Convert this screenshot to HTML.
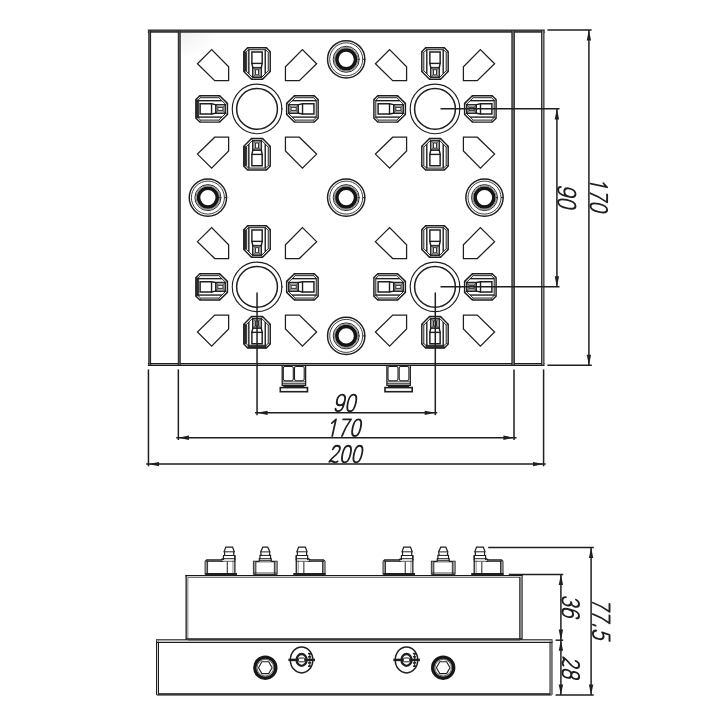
<!DOCTYPE html>
<html><head><meta charset="utf-8"><title>drawing</title>
<style>html,body{margin:0;padding:0;background:#fff;font-family:"Liberation Sans",sans-serif}svg{display:block}</style>
</head><body>
<svg width="724" height="724" viewBox="0 0 724 724">
<rect width="724" height="724" fill="#fff"/>
<defs><radialGradient id="sh" cx="0" cy="0" r="1"><stop offset="0" stop-color="#f0f0f0"/><stop offset="1" stop-color="#ffffff"/></radialGradient></defs>
<rect x="180.5" y="32.5" width="38" height="26" fill="url(#sh)"/>
<line x1="148.30" y1="31.00" x2="544.30" y2="31.00" stroke="#4d4d4d" stroke-width="2.2" />
<line x1="148.30" y1="29.90" x2="544.30" y2="29.90" stroke="#2e2e2e" stroke-width="1.05" stroke-linecap="square"/>
<line x1="148.30" y1="32.10" x2="544.30" y2="32.10" stroke="#2e2e2e" stroke-width="1.05" stroke-linecap="square"/>
<line x1="148.40" y1="364.50" x2="544.00" y2="364.50" stroke="#8c8c8c" stroke-width="2.0" />
<line x1="148.40" y1="363.50" x2="544.00" y2="363.50" stroke="#1c1c1c" stroke-width="1.0" stroke-linecap="square"/>
<line x1="148.40" y1="365.50" x2="544.00" y2="365.50" stroke="#1c1c1c" stroke-width="1.0" stroke-linecap="square"/>
<line x1="149.70" y1="31.00" x2="149.70" y2="364.50" stroke="#6a6a6a" stroke-width="1.8" />
<line x1="150.60" y1="31.00" x2="150.60" y2="364.50" stroke="#1c1c1c" stroke-width="1.0" stroke-linecap="square"/>
<line x1="148.80" y1="31.00" x2="148.80" y2="364.50" stroke="#1c1c1c" stroke-width="1.0" stroke-linecap="square"/>
<line x1="542.80" y1="31.00" x2="542.80" y2="364.50" stroke="#a5a5a5" stroke-width="2.3" />
<line x1="543.95" y1="31.00" x2="543.95" y2="364.50" stroke="#1c1c1c" stroke-width="1.0" stroke-linecap="square"/>
<line x1="541.65" y1="31.00" x2="541.65" y2="364.50" stroke="#1c1c1c" stroke-width="1.0" stroke-linecap="square"/>
<line x1="179.25" y1="31.00" x2="179.25" y2="364.50" stroke="#6a6a6a" stroke-width="1.9" />
<line x1="180.20" y1="31.00" x2="180.20" y2="364.50" stroke="#1c1c1c" stroke-width="1.0" stroke-linecap="square"/>
<line x1="178.30" y1="31.00" x2="178.30" y2="364.50" stroke="#1c1c1c" stroke-width="1.0" stroke-linecap="square"/>
<line x1="513.10" y1="31.00" x2="513.10" y2="364.50" stroke="#7a7a7a" stroke-width="2.4" />
<line x1="514.30" y1="31.00" x2="514.30" y2="364.50" stroke="#1c1c1c" stroke-width="1.05" stroke-linecap="square"/>
<line x1="511.90" y1="31.00" x2="511.90" y2="364.50" stroke="#1c1c1c" stroke-width="1.05" stroke-linecap="square"/>
<circle cx="257.04" cy="108.90" r="24.80" fill="none" stroke="#1f1f1f" stroke-width="1.15"/>
<circle cx="257.04" cy="108.90" r="20.40" fill="none" stroke="#1f1f1f" stroke-width="1.5"/>
<line x1="281.24" y1="108.90" x2="282.64" y2="108.90" stroke="#1f1f1f" stroke-width="1.3" />
<path d="M243.84 51.70 L246.74 52.40 L246.74 70.70 L243.84 71.50 Z" fill="#474747" stroke="#1f1f1f" stroke-width="0.6" stroke-linejoin="miter"/>
<path d="M243.84 51.70 L247.64 47.80 L266.44 47.80 L270.24 51.70 L270.24 71.50 L262.54 79.30 L251.54 79.30 L243.84 71.50 Z" fill="none" stroke="#1f1f1f" stroke-width="1.45" stroke-linejoin="miter"/>
<path d="M245.84 52.40 L248.54 49.70 L265.54 49.70 L268.24 52.40 L268.24 70.70 L261.64 77.40 L252.44 77.40 L245.84 70.70 Z" fill="none" stroke="#1f1f1f" stroke-width="1.0" stroke-linejoin="miter"/>
<line x1="243.84" y1="51.70" x2="245.84" y2="52.40" stroke="#1f1f1f" stroke-width="0.8" />
<line x1="247.64" y1="47.80" x2="248.54" y2="49.70" stroke="#1f1f1f" stroke-width="0.8" />
<line x1="266.44" y1="47.80" x2="265.54" y2="49.70" stroke="#1f1f1f" stroke-width="0.8" />
<line x1="270.24" y1="51.70" x2="268.24" y2="52.40" stroke="#1f1f1f" stroke-width="0.8" />
<line x1="270.24" y1="71.50" x2="268.24" y2="70.70" stroke="#1f1f1f" stroke-width="0.8" />
<line x1="262.54" y1="79.30" x2="261.64" y2="77.40" stroke="#1f1f1f" stroke-width="0.8" />
<line x1="251.54" y1="79.30" x2="252.44" y2="77.40" stroke="#1f1f1f" stroke-width="0.8" />
<line x1="243.84" y1="71.50" x2="245.84" y2="70.70" stroke="#1f1f1f" stroke-width="0.8" />
<line x1="248.84" y1="49.70" x2="248.84" y2="73.80" stroke="#1f1f1f" stroke-width="1.4" />
<line x1="265.24" y1="49.70" x2="265.24" y2="73.80" stroke="#1f1f1f" stroke-width="1.4" />
<path d="M251.89 52.00 L262.19 52.00 L262.19 63.40 L261.34 67.40 L261.34 77.10 L252.74 77.10 L252.74 67.40 L251.89 63.40 Z" fill="none" stroke="#1f1f1f" stroke-width="1.45" stroke-linejoin="miter"/>
<line x1="251.34" y1="63.40" x2="262.74" y2="63.40" stroke="#1f1f1f" stroke-width="1.4" />
<line x1="252.74" y1="67.40" x2="261.34" y2="67.40" stroke="#1f1f1f" stroke-width="1.0" />
<path d="M252.74 67.90 L261.34 67.90 L261.34 77.10 L252.74 77.10 Z" fill="#a8a8a8" stroke="#1f1f1f" stroke-width="0.9" stroke-linejoin="miter"/>
<path d="M255.54 69.70 L258.54 69.70 L258.54 74.80 L255.54 74.80 Z" fill="#fff" stroke="#1f1f1f" stroke-width="0.9" stroke-linejoin="miter"/>
<line x1="252.74" y1="67.90" x2="255.54" y2="69.70" stroke="#1f1f1f" stroke-width="0.6" />
<line x1="252.74" y1="77.10" x2="255.54" y2="74.80" stroke="#1f1f1f" stroke-width="0.6" />
<line x1="261.34" y1="67.90" x2="258.54" y2="69.70" stroke="#1f1f1f" stroke-width="0.6" />
<line x1="261.34" y1="77.10" x2="258.54" y2="74.80" stroke="#1f1f1f" stroke-width="0.6" />
<path d="M314.24 95.70 L318.14 99.50 L318.14 118.30 L314.24 122.10 L294.44 122.10 L286.64 114.40 L286.64 103.40 L294.44 95.70 Z" fill="none" stroke="#1f1f1f" stroke-width="1.45" stroke-linejoin="miter"/>
<path d="M313.54 97.70 L316.24 100.40 L316.24 117.40 L313.54 120.10 L295.24 120.10 L288.54 113.50 L288.54 104.30 L295.24 97.70 Z" fill="none" stroke="#1f1f1f" stroke-width="1.0" stroke-linejoin="miter"/>
<line x1="314.24" y1="95.70" x2="313.54" y2="97.70" stroke="#1f1f1f" stroke-width="0.8" />
<line x1="318.14" y1="99.50" x2="316.24" y2="100.40" stroke="#1f1f1f" stroke-width="0.8" />
<line x1="318.14" y1="118.30" x2="316.24" y2="117.40" stroke="#1f1f1f" stroke-width="0.8" />
<line x1="314.24" y1="122.10" x2="313.54" y2="120.10" stroke="#1f1f1f" stroke-width="0.8" />
<line x1="294.44" y1="122.10" x2="295.24" y2="120.10" stroke="#1f1f1f" stroke-width="0.8" />
<line x1="286.64" y1="114.40" x2="288.54" y2="113.50" stroke="#1f1f1f" stroke-width="0.8" />
<line x1="286.64" y1="103.40" x2="288.54" y2="104.30" stroke="#1f1f1f" stroke-width="0.8" />
<line x1="294.44" y1="95.70" x2="295.24" y2="97.70" stroke="#1f1f1f" stroke-width="0.8" />
<line x1="316.24" y1="100.70" x2="292.14" y2="100.70" stroke="#1f1f1f" stroke-width="1.4" />
<line x1="316.24" y1="117.10" x2="292.14" y2="117.10" stroke="#1f1f1f" stroke-width="1.4" />
<path d="M313.94 103.75 L313.94 114.05 L302.54 114.05 L298.54 113.20 L288.84 113.20 L288.84 104.60 L298.54 104.60 L302.54 103.75 Z" fill="none" stroke="#1f1f1f" stroke-width="1.45" stroke-linejoin="miter"/>
<line x1="302.54" y1="103.20" x2="302.54" y2="114.60" stroke="#1f1f1f" stroke-width="1.4" />
<line x1="298.54" y1="104.60" x2="298.54" y2="113.20" stroke="#1f1f1f" stroke-width="1.0" />
<path d="M298.04 104.60 L298.04 113.20 L288.84 113.20 L288.84 104.60 Z" fill="#a8a8a8" stroke="#1f1f1f" stroke-width="0.9" stroke-linejoin="miter"/>
<path d="M296.24 107.40 L296.24 110.40 L291.14 110.40 L291.14 107.40 Z" fill="#fff" stroke="#1f1f1f" stroke-width="0.9" stroke-linejoin="miter"/>
<line x1="298.04" y1="104.60" x2="296.24" y2="107.40" stroke="#1f1f1f" stroke-width="0.6" />
<line x1="288.84" y1="104.60" x2="291.14" y2="107.40" stroke="#1f1f1f" stroke-width="0.6" />
<line x1="298.04" y1="113.20" x2="296.24" y2="110.40" stroke="#1f1f1f" stroke-width="0.6" />
<line x1="288.84" y1="113.20" x2="291.14" y2="110.40" stroke="#1f1f1f" stroke-width="0.6" />
<path d="M243.84 166.10 L246.74 165.40 L246.74 147.10 L243.84 146.30 Z" fill="#474747" stroke="#1f1f1f" stroke-width="0.6" stroke-linejoin="miter"/>
<path d="M270.24 166.10 L266.44 170.00 L247.64 170.00 L243.84 166.10 L243.84 146.30 L251.54 138.50 L262.54 138.50 L270.24 146.30 Z" fill="none" stroke="#1f1f1f" stroke-width="1.45" stroke-linejoin="miter"/>
<path d="M268.24 165.40 L265.54 168.10 L248.54 168.10 L245.84 165.40 L245.84 147.10 L252.44 140.40 L261.64 140.40 L268.24 147.10 Z" fill="none" stroke="#1f1f1f" stroke-width="1.0" stroke-linejoin="miter"/>
<line x1="270.24" y1="166.10" x2="268.24" y2="165.40" stroke="#1f1f1f" stroke-width="0.8" />
<line x1="266.44" y1="170.00" x2="265.54" y2="168.10" stroke="#1f1f1f" stroke-width="0.8" />
<line x1="247.64" y1="170.00" x2="248.54" y2="168.10" stroke="#1f1f1f" stroke-width="0.8" />
<line x1="243.84" y1="166.10" x2="245.84" y2="165.40" stroke="#1f1f1f" stroke-width="0.8" />
<line x1="243.84" y1="146.30" x2="245.84" y2="147.10" stroke="#1f1f1f" stroke-width="0.8" />
<line x1="251.54" y1="138.50" x2="252.44" y2="140.40" stroke="#1f1f1f" stroke-width="0.8" />
<line x1="262.54" y1="138.50" x2="261.64" y2="140.40" stroke="#1f1f1f" stroke-width="0.8" />
<line x1="270.24" y1="146.30" x2="268.24" y2="147.10" stroke="#1f1f1f" stroke-width="0.8" />
<line x1="265.24" y1="168.10" x2="265.24" y2="144.00" stroke="#1f1f1f" stroke-width="1.4" />
<line x1="248.84" y1="168.10" x2="248.84" y2="144.00" stroke="#1f1f1f" stroke-width="1.4" />
<path d="M262.19 165.80 L251.89 165.80 L251.89 154.40 L252.74 150.40 L252.74 140.70 L261.34 140.70 L261.34 150.40 L262.19 154.40 Z" fill="none" stroke="#1f1f1f" stroke-width="1.45" stroke-linejoin="miter"/>
<line x1="262.74" y1="154.40" x2="251.34" y2="154.40" stroke="#1f1f1f" stroke-width="1.4" />
<line x1="261.34" y1="150.40" x2="252.74" y2="150.40" stroke="#1f1f1f" stroke-width="1.0" />
<path d="M261.34 149.90 L252.74 149.90 L252.74 140.70 L261.34 140.70 Z" fill="#a8a8a8" stroke="#1f1f1f" stroke-width="0.9" stroke-linejoin="miter"/>
<path d="M258.54 148.10 L255.54 148.10 L255.54 143.00 L258.54 143.00 Z" fill="#fff" stroke="#1f1f1f" stroke-width="0.9" stroke-linejoin="miter"/>
<line x1="261.34" y1="149.90" x2="258.54" y2="148.10" stroke="#1f1f1f" stroke-width="0.6" />
<line x1="261.34" y1="140.70" x2="258.54" y2="143.00" stroke="#1f1f1f" stroke-width="0.6" />
<line x1="252.74" y1="149.90" x2="255.54" y2="148.10" stroke="#1f1f1f" stroke-width="0.6" />
<line x1="252.74" y1="140.70" x2="255.54" y2="143.00" stroke="#1f1f1f" stroke-width="0.6" />
<path d="M195.94 118.30 L198.74 117.40 L198.74 100.40 L195.94 99.50 Z" fill="#474747" stroke="#1f1f1f" stroke-width="0.6" stroke-linejoin="miter"/>
<path d="M199.84 122.10 L195.94 118.30 L195.94 99.50 L199.84 95.70 L219.64 95.70 L227.44 103.40 L227.44 114.40 L219.64 122.10 Z" fill="none" stroke="#1f1f1f" stroke-width="1.45" stroke-linejoin="miter"/>
<path d="M200.54 120.10 L197.84 117.40 L197.84 100.40 L200.54 97.70 L218.84 97.70 L225.54 104.30 L225.54 113.50 L218.84 120.10 Z" fill="none" stroke="#1f1f1f" stroke-width="1.0" stroke-linejoin="miter"/>
<line x1="199.84" y1="122.10" x2="200.54" y2="120.10" stroke="#1f1f1f" stroke-width="0.8" />
<line x1="195.94" y1="118.30" x2="197.84" y2="117.40" stroke="#1f1f1f" stroke-width="0.8" />
<line x1="195.94" y1="99.50" x2="197.84" y2="100.40" stroke="#1f1f1f" stroke-width="0.8" />
<line x1="199.84" y1="95.70" x2="200.54" y2="97.70" stroke="#1f1f1f" stroke-width="0.8" />
<line x1="219.64" y1="95.70" x2="218.84" y2="97.70" stroke="#1f1f1f" stroke-width="0.8" />
<line x1="227.44" y1="103.40" x2="225.54" y2="104.30" stroke="#1f1f1f" stroke-width="0.8" />
<line x1="227.44" y1="114.40" x2="225.54" y2="113.50" stroke="#1f1f1f" stroke-width="0.8" />
<line x1="219.64" y1="122.10" x2="218.84" y2="120.10" stroke="#1f1f1f" stroke-width="0.8" />
<line x1="197.84" y1="117.10" x2="221.94" y2="117.10" stroke="#1f1f1f" stroke-width="1.4" />
<line x1="197.84" y1="100.70" x2="221.94" y2="100.70" stroke="#1f1f1f" stroke-width="1.4" />
<path d="M200.14 114.05 L200.14 103.75 L211.54 103.75 L215.54 104.60 L225.24 104.60 L225.24 113.20 L215.54 113.20 L211.54 114.05 Z" fill="none" stroke="#1f1f1f" stroke-width="1.45" stroke-linejoin="miter"/>
<line x1="211.54" y1="114.60" x2="211.54" y2="103.20" stroke="#1f1f1f" stroke-width="1.4" />
<line x1="215.54" y1="113.20" x2="215.54" y2="104.60" stroke="#1f1f1f" stroke-width="1.0" />
<path d="M216.04 113.20 L216.04 104.60 L225.24 104.60 L225.24 113.20 Z" fill="#a8a8a8" stroke="#1f1f1f" stroke-width="0.9" stroke-linejoin="miter"/>
<path d="M217.84 110.40 L217.84 107.40 L222.94 107.40 L222.94 110.40 Z" fill="#fff" stroke="#1f1f1f" stroke-width="0.9" stroke-linejoin="miter"/>
<line x1="216.04" y1="113.20" x2="217.84" y2="110.40" stroke="#1f1f1f" stroke-width="0.6" />
<line x1="225.24" y1="113.20" x2="222.94" y2="110.40" stroke="#1f1f1f" stroke-width="0.6" />
<line x1="216.04" y1="104.60" x2="217.84" y2="107.40" stroke="#1f1f1f" stroke-width="0.6" />
<line x1="225.24" y1="104.60" x2="222.94" y2="107.40" stroke="#1f1f1f" stroke-width="0.6" />
<path d="M228.64 80.60 L228.64 66.80 L211.64 49.60 L197.44 63.70 L214.74 80.60 Z" fill="none" stroke="#1f1f1f" stroke-width="1.25" stroke-linejoin="miter"/>
<path d="M228.64 137.20 L228.64 151.00 L211.64 168.20 L197.44 154.10 L214.74 137.20 Z" fill="none" stroke="#1f1f1f" stroke-width="1.25" stroke-linejoin="miter"/>
<path d="M285.44 80.60 L285.44 66.80 L302.44 49.60 L316.64 63.70 L299.34 80.60 Z" fill="none" stroke="#1f1f1f" stroke-width="1.25" stroke-linejoin="miter"/>
<path d="M285.44 137.20 L285.44 151.00 L302.44 168.20 L316.64 154.10 L299.34 137.20 Z" fill="none" stroke="#1f1f1f" stroke-width="1.25" stroke-linejoin="miter"/>
<circle cx="435.00" cy="108.90" r="24.80" fill="none" stroke="#1f1f1f" stroke-width="1.15"/>
<circle cx="435.00" cy="108.90" r="20.40" fill="none" stroke="#1f1f1f" stroke-width="1.5"/>
<line x1="459.20" y1="108.90" x2="460.60" y2="108.90" stroke="#1f1f1f" stroke-width="1.3" />
<path d="M421.80 51.70 L425.60 47.80 L444.40 47.80 L448.20 51.70 L448.20 71.50 L440.50 79.30 L429.50 79.30 L421.80 71.50 Z" fill="none" stroke="#1f1f1f" stroke-width="1.45" stroke-linejoin="miter"/>
<path d="M423.80 52.40 L426.50 49.70 L443.50 49.70 L446.20 52.40 L446.20 70.70 L439.60 77.40 L430.40 77.40 L423.80 70.70 Z" fill="none" stroke="#1f1f1f" stroke-width="1.0" stroke-linejoin="miter"/>
<line x1="421.80" y1="51.70" x2="423.80" y2="52.40" stroke="#1f1f1f" stroke-width="0.8" />
<line x1="425.60" y1="47.80" x2="426.50" y2="49.70" stroke="#1f1f1f" stroke-width="0.8" />
<line x1="444.40" y1="47.80" x2="443.50" y2="49.70" stroke="#1f1f1f" stroke-width="0.8" />
<line x1="448.20" y1="51.70" x2="446.20" y2="52.40" stroke="#1f1f1f" stroke-width="0.8" />
<line x1="448.20" y1="71.50" x2="446.20" y2="70.70" stroke="#1f1f1f" stroke-width="0.8" />
<line x1="440.50" y1="79.30" x2="439.60" y2="77.40" stroke="#1f1f1f" stroke-width="0.8" />
<line x1="429.50" y1="79.30" x2="430.40" y2="77.40" stroke="#1f1f1f" stroke-width="0.8" />
<line x1="421.80" y1="71.50" x2="423.80" y2="70.70" stroke="#1f1f1f" stroke-width="0.8" />
<line x1="426.80" y1="49.70" x2="426.80" y2="73.80" stroke="#1f1f1f" stroke-width="1.4" />
<line x1="443.20" y1="49.70" x2="443.20" y2="73.80" stroke="#1f1f1f" stroke-width="1.4" />
<path d="M429.85 52.00 L440.15 52.00 L440.15 63.40 L439.30 67.40 L439.30 77.10 L430.70 77.10 L430.70 67.40 L429.85 63.40 Z" fill="none" stroke="#1f1f1f" stroke-width="1.45" stroke-linejoin="miter"/>
<line x1="429.30" y1="63.40" x2="440.70" y2="63.40" stroke="#1f1f1f" stroke-width="1.4" />
<line x1="430.70" y1="67.40" x2="439.30" y2="67.40" stroke="#1f1f1f" stroke-width="1.0" />
<path d="M430.70 67.90 L439.30 67.90 L439.30 77.10 L430.70 77.10 Z" fill="#a8a8a8" stroke="#1f1f1f" stroke-width="0.9" stroke-linejoin="miter"/>
<path d="M433.50 69.70 L436.50 69.70 L436.50 74.80 L433.50 74.80 Z" fill="#fff" stroke="#1f1f1f" stroke-width="0.9" stroke-linejoin="miter"/>
<line x1="430.70" y1="67.90" x2="433.50" y2="69.70" stroke="#1f1f1f" stroke-width="0.6" />
<line x1="430.70" y1="77.10" x2="433.50" y2="74.80" stroke="#1f1f1f" stroke-width="0.6" />
<line x1="439.30" y1="67.90" x2="436.50" y2="69.70" stroke="#1f1f1f" stroke-width="0.6" />
<line x1="439.30" y1="77.10" x2="436.50" y2="74.80" stroke="#1f1f1f" stroke-width="0.6" />
<path d="M492.20 95.70 L496.10 99.50 L496.10 118.30 L492.20 122.10 L472.40 122.10 L464.60 114.40 L464.60 103.40 L472.40 95.70 Z" fill="none" stroke="#1f1f1f" stroke-width="1.45" stroke-linejoin="miter"/>
<path d="M491.50 97.70 L494.20 100.40 L494.20 117.40 L491.50 120.10 L473.20 120.10 L466.50 113.50 L466.50 104.30 L473.20 97.70 Z" fill="none" stroke="#1f1f1f" stroke-width="1.0" stroke-linejoin="miter"/>
<line x1="492.20" y1="95.70" x2="491.50" y2="97.70" stroke="#1f1f1f" stroke-width="0.8" />
<line x1="496.10" y1="99.50" x2="494.20" y2="100.40" stroke="#1f1f1f" stroke-width="0.8" />
<line x1="496.10" y1="118.30" x2="494.20" y2="117.40" stroke="#1f1f1f" stroke-width="0.8" />
<line x1="492.20" y1="122.10" x2="491.50" y2="120.10" stroke="#1f1f1f" stroke-width="0.8" />
<line x1="472.40" y1="122.10" x2="473.20" y2="120.10" stroke="#1f1f1f" stroke-width="0.8" />
<line x1="464.60" y1="114.40" x2="466.50" y2="113.50" stroke="#1f1f1f" stroke-width="0.8" />
<line x1="464.60" y1="103.40" x2="466.50" y2="104.30" stroke="#1f1f1f" stroke-width="0.8" />
<line x1="472.40" y1="95.70" x2="473.20" y2="97.70" stroke="#1f1f1f" stroke-width="0.8" />
<line x1="494.20" y1="100.70" x2="470.10" y2="100.70" stroke="#1f1f1f" stroke-width="1.4" />
<line x1="494.20" y1="117.10" x2="470.10" y2="117.10" stroke="#1f1f1f" stroke-width="1.4" />
<path d="M491.90 103.75 L491.90 114.05 L480.50 114.05 L476.50 113.20 L466.80 113.20 L466.80 104.60 L476.50 104.60 L480.50 103.75 Z" fill="none" stroke="#1f1f1f" stroke-width="1.45" stroke-linejoin="miter"/>
<line x1="480.50" y1="103.20" x2="480.50" y2="114.60" stroke="#1f1f1f" stroke-width="1.4" />
<line x1="476.50" y1="104.60" x2="476.50" y2="113.20" stroke="#1f1f1f" stroke-width="1.0" />
<path d="M476.00 104.60 L476.00 113.20 L466.80 113.20 L466.80 104.60 Z" fill="#a8a8a8" stroke="#1f1f1f" stroke-width="0.9" stroke-linejoin="miter"/>
<path d="M474.20 107.40 L474.20 110.40 L469.10 110.40 L469.10 107.40 Z" fill="#fff" stroke="#1f1f1f" stroke-width="0.9" stroke-linejoin="miter"/>
<line x1="476.00" y1="104.60" x2="474.20" y2="107.40" stroke="#1f1f1f" stroke-width="0.6" />
<line x1="466.80" y1="104.60" x2="469.10" y2="107.40" stroke="#1f1f1f" stroke-width="0.6" />
<line x1="476.00" y1="113.20" x2="474.20" y2="110.40" stroke="#1f1f1f" stroke-width="0.6" />
<line x1="466.80" y1="113.20" x2="469.10" y2="110.40" stroke="#1f1f1f" stroke-width="0.6" />
<path d="M448.20 166.10 L444.40 170.00 L425.60 170.00 L421.80 166.10 L421.80 146.30 L429.50 138.50 L440.50 138.50 L448.20 146.30 Z" fill="none" stroke="#1f1f1f" stroke-width="1.45" stroke-linejoin="miter"/>
<path d="M446.20 165.40 L443.50 168.10 L426.50 168.10 L423.80 165.40 L423.80 147.10 L430.40 140.40 L439.60 140.40 L446.20 147.10 Z" fill="none" stroke="#1f1f1f" stroke-width="1.0" stroke-linejoin="miter"/>
<line x1="448.20" y1="166.10" x2="446.20" y2="165.40" stroke="#1f1f1f" stroke-width="0.8" />
<line x1="444.40" y1="170.00" x2="443.50" y2="168.10" stroke="#1f1f1f" stroke-width="0.8" />
<line x1="425.60" y1="170.00" x2="426.50" y2="168.10" stroke="#1f1f1f" stroke-width="0.8" />
<line x1="421.80" y1="166.10" x2="423.80" y2="165.40" stroke="#1f1f1f" stroke-width="0.8" />
<line x1="421.80" y1="146.30" x2="423.80" y2="147.10" stroke="#1f1f1f" stroke-width="0.8" />
<line x1="429.50" y1="138.50" x2="430.40" y2="140.40" stroke="#1f1f1f" stroke-width="0.8" />
<line x1="440.50" y1="138.50" x2="439.60" y2="140.40" stroke="#1f1f1f" stroke-width="0.8" />
<line x1="448.20" y1="146.30" x2="446.20" y2="147.10" stroke="#1f1f1f" stroke-width="0.8" />
<line x1="443.20" y1="168.10" x2="443.20" y2="144.00" stroke="#1f1f1f" stroke-width="1.4" />
<line x1="426.80" y1="168.10" x2="426.80" y2="144.00" stroke="#1f1f1f" stroke-width="1.4" />
<path d="M440.15 165.80 L429.85 165.80 L429.85 154.40 L430.70 150.40 L430.70 140.70 L439.30 140.70 L439.30 150.40 L440.15 154.40 Z" fill="none" stroke="#1f1f1f" stroke-width="1.45" stroke-linejoin="miter"/>
<line x1="440.70" y1="154.40" x2="429.30" y2="154.40" stroke="#1f1f1f" stroke-width="1.4" />
<line x1="439.30" y1="150.40" x2="430.70" y2="150.40" stroke="#1f1f1f" stroke-width="1.0" />
<path d="M439.30 149.90 L430.70 149.90 L430.70 140.70 L439.30 140.70 Z" fill="#a8a8a8" stroke="#1f1f1f" stroke-width="0.9" stroke-linejoin="miter"/>
<path d="M436.50 148.10 L433.50 148.10 L433.50 143.00 L436.50 143.00 Z" fill="#fff" stroke="#1f1f1f" stroke-width="0.9" stroke-linejoin="miter"/>
<line x1="439.30" y1="149.90" x2="436.50" y2="148.10" stroke="#1f1f1f" stroke-width="0.6" />
<line x1="439.30" y1="140.70" x2="436.50" y2="143.00" stroke="#1f1f1f" stroke-width="0.6" />
<line x1="430.70" y1="149.90" x2="433.50" y2="148.10" stroke="#1f1f1f" stroke-width="0.6" />
<line x1="430.70" y1="140.70" x2="433.50" y2="143.00" stroke="#1f1f1f" stroke-width="0.6" />
<path d="M377.80 122.10 L373.90 118.30 L373.90 99.50 L377.80 95.70 L397.60 95.70 L405.40 103.40 L405.40 114.40 L397.60 122.10 Z" fill="none" stroke="#1f1f1f" stroke-width="1.45" stroke-linejoin="miter"/>
<path d="M378.50 120.10 L375.80 117.40 L375.80 100.40 L378.50 97.70 L396.80 97.70 L403.50 104.30 L403.50 113.50 L396.80 120.10 Z" fill="none" stroke="#1f1f1f" stroke-width="1.0" stroke-linejoin="miter"/>
<line x1="377.80" y1="122.10" x2="378.50" y2="120.10" stroke="#1f1f1f" stroke-width="0.8" />
<line x1="373.90" y1="118.30" x2="375.80" y2="117.40" stroke="#1f1f1f" stroke-width="0.8" />
<line x1="373.90" y1="99.50" x2="375.80" y2="100.40" stroke="#1f1f1f" stroke-width="0.8" />
<line x1="377.80" y1="95.70" x2="378.50" y2="97.70" stroke="#1f1f1f" stroke-width="0.8" />
<line x1="397.60" y1="95.70" x2="396.80" y2="97.70" stroke="#1f1f1f" stroke-width="0.8" />
<line x1="405.40" y1="103.40" x2="403.50" y2="104.30" stroke="#1f1f1f" stroke-width="0.8" />
<line x1="405.40" y1="114.40" x2="403.50" y2="113.50" stroke="#1f1f1f" stroke-width="0.8" />
<line x1="397.60" y1="122.10" x2="396.80" y2="120.10" stroke="#1f1f1f" stroke-width="0.8" />
<line x1="375.80" y1="117.10" x2="399.90" y2="117.10" stroke="#1f1f1f" stroke-width="1.4" />
<line x1="375.80" y1="100.70" x2="399.90" y2="100.70" stroke="#1f1f1f" stroke-width="1.4" />
<path d="M378.10 114.05 L378.10 103.75 L389.50 103.75 L393.50 104.60 L403.20 104.60 L403.20 113.20 L393.50 113.20 L389.50 114.05 Z" fill="none" stroke="#1f1f1f" stroke-width="1.45" stroke-linejoin="miter"/>
<line x1="389.50" y1="114.60" x2="389.50" y2="103.20" stroke="#1f1f1f" stroke-width="1.4" />
<line x1="393.50" y1="113.20" x2="393.50" y2="104.60" stroke="#1f1f1f" stroke-width="1.0" />
<path d="M394.00 113.20 L394.00 104.60 L403.20 104.60 L403.20 113.20 Z" fill="#a8a8a8" stroke="#1f1f1f" stroke-width="0.9" stroke-linejoin="miter"/>
<path d="M395.80 110.40 L395.80 107.40 L400.90 107.40 L400.90 110.40 Z" fill="#fff" stroke="#1f1f1f" stroke-width="0.9" stroke-linejoin="miter"/>
<line x1="394.00" y1="113.20" x2="395.80" y2="110.40" stroke="#1f1f1f" stroke-width="0.6" />
<line x1="403.20" y1="113.20" x2="400.90" y2="110.40" stroke="#1f1f1f" stroke-width="0.6" />
<line x1="394.00" y1="104.60" x2="395.80" y2="107.40" stroke="#1f1f1f" stroke-width="0.6" />
<line x1="403.20" y1="104.60" x2="400.90" y2="107.40" stroke="#1f1f1f" stroke-width="0.6" />
<path d="M406.60 80.60 L406.60 66.80 L389.60 49.60 L375.40 63.70 L392.70 80.60 Z" fill="none" stroke="#1f1f1f" stroke-width="1.25" stroke-linejoin="miter"/>
<path d="M406.60 137.20 L406.60 151.00 L389.60 168.20 L375.40 154.10 L392.70 137.20 Z" fill="none" stroke="#1f1f1f" stroke-width="1.25" stroke-linejoin="miter"/>
<path d="M463.40 80.60 L463.40 66.80 L480.40 49.60 L494.60 63.70 L477.30 80.60 Z" fill="none" stroke="#1f1f1f" stroke-width="1.25" stroke-linejoin="miter"/>
<path d="M463.40 137.20 L463.40 151.00 L480.40 168.20 L494.60 154.10 L477.30 137.20 Z" fill="none" stroke="#1f1f1f" stroke-width="1.25" stroke-linejoin="miter"/>
<circle cx="257.04" cy="286.86" r="24.80" fill="none" stroke="#1f1f1f" stroke-width="1.15"/>
<circle cx="257.04" cy="286.86" r="20.40" fill="none" stroke="#1f1f1f" stroke-width="1.5"/>
<line x1="281.24" y1="286.86" x2="282.64" y2="286.86" stroke="#1f1f1f" stroke-width="1.3" />
<path d="M243.84 229.66 L246.74 230.36 L246.74 248.66 L243.84 249.46 Z" fill="#474747" stroke="#1f1f1f" stroke-width="0.6" stroke-linejoin="miter"/>
<path d="M243.84 229.66 L247.64 225.76 L266.44 225.76 L270.24 229.66 L270.24 249.46 L262.54 257.26 L251.54 257.26 L243.84 249.46 Z" fill="none" stroke="#1f1f1f" stroke-width="1.45" stroke-linejoin="miter"/>
<path d="M245.84 230.36 L248.54 227.66 L265.54 227.66 L268.24 230.36 L268.24 248.66 L261.64 255.36 L252.44 255.36 L245.84 248.66 Z" fill="none" stroke="#1f1f1f" stroke-width="1.0" stroke-linejoin="miter"/>
<line x1="243.84" y1="229.66" x2="245.84" y2="230.36" stroke="#1f1f1f" stroke-width="0.8" />
<line x1="247.64" y1="225.76" x2="248.54" y2="227.66" stroke="#1f1f1f" stroke-width="0.8" />
<line x1="266.44" y1="225.76" x2="265.54" y2="227.66" stroke="#1f1f1f" stroke-width="0.8" />
<line x1="270.24" y1="229.66" x2="268.24" y2="230.36" stroke="#1f1f1f" stroke-width="0.8" />
<line x1="270.24" y1="249.46" x2="268.24" y2="248.66" stroke="#1f1f1f" stroke-width="0.8" />
<line x1="262.54" y1="257.26" x2="261.64" y2="255.36" stroke="#1f1f1f" stroke-width="0.8" />
<line x1="251.54" y1="257.26" x2="252.44" y2="255.36" stroke="#1f1f1f" stroke-width="0.8" />
<line x1="243.84" y1="249.46" x2="245.84" y2="248.66" stroke="#1f1f1f" stroke-width="0.8" />
<line x1="248.84" y1="227.66" x2="248.84" y2="251.76" stroke="#1f1f1f" stroke-width="1.4" />
<line x1="265.24" y1="227.66" x2="265.24" y2="251.76" stroke="#1f1f1f" stroke-width="1.4" />
<path d="M251.89 229.96 L262.19 229.96 L262.19 241.36 L261.34 245.36 L261.34 255.06 L252.74 255.06 L252.74 245.36 L251.89 241.36 Z" fill="none" stroke="#1f1f1f" stroke-width="1.45" stroke-linejoin="miter"/>
<line x1="251.34" y1="241.36" x2="262.74" y2="241.36" stroke="#1f1f1f" stroke-width="1.4" />
<line x1="252.74" y1="245.36" x2="261.34" y2="245.36" stroke="#1f1f1f" stroke-width="1.0" />
<path d="M252.74 245.86 L261.34 245.86 L261.34 255.06 L252.74 255.06 Z" fill="#a8a8a8" stroke="#1f1f1f" stroke-width="0.9" stroke-linejoin="miter"/>
<path d="M255.54 247.66 L258.54 247.66 L258.54 252.76 L255.54 252.76 Z" fill="#fff" stroke="#1f1f1f" stroke-width="0.9" stroke-linejoin="miter"/>
<line x1="252.74" y1="245.86" x2="255.54" y2="247.66" stroke="#1f1f1f" stroke-width="0.6" />
<line x1="252.74" y1="255.06" x2="255.54" y2="252.76" stroke="#1f1f1f" stroke-width="0.6" />
<line x1="261.34" y1="245.86" x2="258.54" y2="247.66" stroke="#1f1f1f" stroke-width="0.6" />
<line x1="261.34" y1="255.06" x2="258.54" y2="252.76" stroke="#1f1f1f" stroke-width="0.6" />
<path d="M314.24 273.66 L318.14 277.46 L318.14 296.26 L314.24 300.06 L294.44 300.06 L286.64 292.36 L286.64 281.36 L294.44 273.66 Z" fill="none" stroke="#1f1f1f" stroke-width="1.45" stroke-linejoin="miter"/>
<path d="M313.54 275.66 L316.24 278.36 L316.24 295.36 L313.54 298.06 L295.24 298.06 L288.54 291.46 L288.54 282.26 L295.24 275.66 Z" fill="none" stroke="#1f1f1f" stroke-width="1.0" stroke-linejoin="miter"/>
<line x1="314.24" y1="273.66" x2="313.54" y2="275.66" stroke="#1f1f1f" stroke-width="0.8" />
<line x1="318.14" y1="277.46" x2="316.24" y2="278.36" stroke="#1f1f1f" stroke-width="0.8" />
<line x1="318.14" y1="296.26" x2="316.24" y2="295.36" stroke="#1f1f1f" stroke-width="0.8" />
<line x1="314.24" y1="300.06" x2="313.54" y2="298.06" stroke="#1f1f1f" stroke-width="0.8" />
<line x1="294.44" y1="300.06" x2="295.24" y2="298.06" stroke="#1f1f1f" stroke-width="0.8" />
<line x1="286.64" y1="292.36" x2="288.54" y2="291.46" stroke="#1f1f1f" stroke-width="0.8" />
<line x1="286.64" y1="281.36" x2="288.54" y2="282.26" stroke="#1f1f1f" stroke-width="0.8" />
<line x1="294.44" y1="273.66" x2="295.24" y2="275.66" stroke="#1f1f1f" stroke-width="0.8" />
<line x1="316.24" y1="278.66" x2="292.14" y2="278.66" stroke="#1f1f1f" stroke-width="1.4" />
<line x1="316.24" y1="295.06" x2="292.14" y2="295.06" stroke="#1f1f1f" stroke-width="1.4" />
<path d="M313.94 281.71 L313.94 292.01 L302.54 292.01 L298.54 291.16 L288.84 291.16 L288.84 282.56 L298.54 282.56 L302.54 281.71 Z" fill="none" stroke="#1f1f1f" stroke-width="1.45" stroke-linejoin="miter"/>
<line x1="302.54" y1="281.16" x2="302.54" y2="292.56" stroke="#1f1f1f" stroke-width="1.4" />
<line x1="298.54" y1="282.56" x2="298.54" y2="291.16" stroke="#1f1f1f" stroke-width="1.0" />
<path d="M298.04 282.56 L298.04 291.16 L288.84 291.16 L288.84 282.56 Z" fill="#a8a8a8" stroke="#1f1f1f" stroke-width="0.9" stroke-linejoin="miter"/>
<path d="M296.24 285.36 L296.24 288.36 L291.14 288.36 L291.14 285.36 Z" fill="#fff" stroke="#1f1f1f" stroke-width="0.9" stroke-linejoin="miter"/>
<line x1="298.04" y1="282.56" x2="296.24" y2="285.36" stroke="#1f1f1f" stroke-width="0.6" />
<line x1="288.84" y1="282.56" x2="291.14" y2="285.36" stroke="#1f1f1f" stroke-width="0.6" />
<line x1="298.04" y1="291.16" x2="296.24" y2="288.36" stroke="#1f1f1f" stroke-width="0.6" />
<line x1="288.84" y1="291.16" x2="291.14" y2="288.36" stroke="#1f1f1f" stroke-width="0.6" />
<path d="M243.84 344.06 L246.74 343.36 L246.74 325.06 L243.84 324.26 Z" fill="#474747" stroke="#1f1f1f" stroke-width="0.6" stroke-linejoin="miter"/>
<path d="M266.44 347.96 L265.54 345.16 L248.54 345.16 L247.64 347.96 Z" fill="#474747" stroke="#1f1f1f" stroke-width="0.6" stroke-linejoin="miter"/>
<path d="M270.24 344.06 L266.44 347.96 L247.64 347.96 L243.84 344.06 L243.84 324.26 L251.54 316.46 L262.54 316.46 L270.24 324.26 Z" fill="none" stroke="#1f1f1f" stroke-width="1.45" stroke-linejoin="miter"/>
<path d="M268.24 343.36 L265.54 346.06 L248.54 346.06 L245.84 343.36 L245.84 325.06 L252.44 318.36 L261.64 318.36 L268.24 325.06 Z" fill="none" stroke="#1f1f1f" stroke-width="1.0" stroke-linejoin="miter"/>
<line x1="270.24" y1="344.06" x2="268.24" y2="343.36" stroke="#1f1f1f" stroke-width="0.8" />
<line x1="266.44" y1="347.96" x2="265.54" y2="346.06" stroke="#1f1f1f" stroke-width="0.8" />
<line x1="247.64" y1="347.96" x2="248.54" y2="346.06" stroke="#1f1f1f" stroke-width="0.8" />
<line x1="243.84" y1="344.06" x2="245.84" y2="343.36" stroke="#1f1f1f" stroke-width="0.8" />
<line x1="243.84" y1="324.26" x2="245.84" y2="325.06" stroke="#1f1f1f" stroke-width="0.8" />
<line x1="251.54" y1="316.46" x2="252.44" y2="318.36" stroke="#1f1f1f" stroke-width="0.8" />
<line x1="262.54" y1="316.46" x2="261.64" y2="318.36" stroke="#1f1f1f" stroke-width="0.8" />
<line x1="270.24" y1="324.26" x2="268.24" y2="325.06" stroke="#1f1f1f" stroke-width="0.8" />
<line x1="265.24" y1="346.06" x2="265.24" y2="321.96" stroke="#1f1f1f" stroke-width="1.4" />
<line x1="248.84" y1="346.06" x2="248.84" y2="321.96" stroke="#1f1f1f" stroke-width="1.4" />
<path d="M262.19 343.76 L251.89 343.76 L251.89 332.36 L252.74 328.36 L252.74 318.66 L261.34 318.66 L261.34 328.36 L262.19 332.36 Z" fill="none" stroke="#1f1f1f" stroke-width="1.45" stroke-linejoin="miter"/>
<line x1="262.74" y1="332.36" x2="251.34" y2="332.36" stroke="#1f1f1f" stroke-width="1.4" />
<line x1="261.34" y1="328.36" x2="252.74" y2="328.36" stroke="#1f1f1f" stroke-width="1.0" />
<path d="M261.34 327.86 L252.74 327.86 L252.74 318.66 L261.34 318.66 Z" fill="#a8a8a8" stroke="#1f1f1f" stroke-width="0.9" stroke-linejoin="miter"/>
<path d="M258.54 326.06 L255.54 326.06 L255.54 320.96 L258.54 320.96 Z" fill="#fff" stroke="#1f1f1f" stroke-width="0.9" stroke-linejoin="miter"/>
<line x1="261.34" y1="327.86" x2="258.54" y2="326.06" stroke="#1f1f1f" stroke-width="0.6" />
<line x1="261.34" y1="318.66" x2="258.54" y2="320.96" stroke="#1f1f1f" stroke-width="0.6" />
<line x1="252.74" y1="327.86" x2="255.54" y2="326.06" stroke="#1f1f1f" stroke-width="0.6" />
<line x1="252.74" y1="318.66" x2="255.54" y2="320.96" stroke="#1f1f1f" stroke-width="0.6" />
<path d="M195.94 296.26 L198.74 295.36 L198.74 278.36 L195.94 277.46 Z" fill="#474747" stroke="#1f1f1f" stroke-width="0.6" stroke-linejoin="miter"/>
<path d="M199.84 300.06 L195.94 296.26 L195.94 277.46 L199.84 273.66 L219.64 273.66 L227.44 281.36 L227.44 292.36 L219.64 300.06 Z" fill="none" stroke="#1f1f1f" stroke-width="1.45" stroke-linejoin="miter"/>
<path d="M200.54 298.06 L197.84 295.36 L197.84 278.36 L200.54 275.66 L218.84 275.66 L225.54 282.26 L225.54 291.46 L218.84 298.06 Z" fill="none" stroke="#1f1f1f" stroke-width="1.0" stroke-linejoin="miter"/>
<line x1="199.84" y1="300.06" x2="200.54" y2="298.06" stroke="#1f1f1f" stroke-width="0.8" />
<line x1="195.94" y1="296.26" x2="197.84" y2="295.36" stroke="#1f1f1f" stroke-width="0.8" />
<line x1="195.94" y1="277.46" x2="197.84" y2="278.36" stroke="#1f1f1f" stroke-width="0.8" />
<line x1="199.84" y1="273.66" x2="200.54" y2="275.66" stroke="#1f1f1f" stroke-width="0.8" />
<line x1="219.64" y1="273.66" x2="218.84" y2="275.66" stroke="#1f1f1f" stroke-width="0.8" />
<line x1="227.44" y1="281.36" x2="225.54" y2="282.26" stroke="#1f1f1f" stroke-width="0.8" />
<line x1="227.44" y1="292.36" x2="225.54" y2="291.46" stroke="#1f1f1f" stroke-width="0.8" />
<line x1="219.64" y1="300.06" x2="218.84" y2="298.06" stroke="#1f1f1f" stroke-width="0.8" />
<line x1="197.84" y1="295.06" x2="221.94" y2="295.06" stroke="#1f1f1f" stroke-width="1.4" />
<line x1="197.84" y1="278.66" x2="221.94" y2="278.66" stroke="#1f1f1f" stroke-width="1.4" />
<path d="M200.14 292.01 L200.14 281.71 L211.54 281.71 L215.54 282.56 L225.24 282.56 L225.24 291.16 L215.54 291.16 L211.54 292.01 Z" fill="none" stroke="#1f1f1f" stroke-width="1.45" stroke-linejoin="miter"/>
<line x1="211.54" y1="292.56" x2="211.54" y2="281.16" stroke="#1f1f1f" stroke-width="1.4" />
<line x1="215.54" y1="291.16" x2="215.54" y2="282.56" stroke="#1f1f1f" stroke-width="1.0" />
<path d="M216.04 291.16 L216.04 282.56 L225.24 282.56 L225.24 291.16 Z" fill="#a8a8a8" stroke="#1f1f1f" stroke-width="0.9" stroke-linejoin="miter"/>
<path d="M217.84 288.36 L217.84 285.36 L222.94 285.36 L222.94 288.36 Z" fill="#fff" stroke="#1f1f1f" stroke-width="0.9" stroke-linejoin="miter"/>
<line x1="216.04" y1="291.16" x2="217.84" y2="288.36" stroke="#1f1f1f" stroke-width="0.6" />
<line x1="225.24" y1="291.16" x2="222.94" y2="288.36" stroke="#1f1f1f" stroke-width="0.6" />
<line x1="216.04" y1="282.56" x2="217.84" y2="285.36" stroke="#1f1f1f" stroke-width="0.6" />
<line x1="225.24" y1="282.56" x2="222.94" y2="285.36" stroke="#1f1f1f" stroke-width="0.6" />
<path d="M228.64 258.56 L228.64 244.76 L211.64 227.56 L197.44 241.66 L214.74 258.56 Z" fill="none" stroke="#1f1f1f" stroke-width="1.25" stroke-linejoin="miter"/>
<path d="M228.64 315.16 L228.64 328.96 L211.64 346.16 L197.44 332.06 L214.74 315.16 Z" fill="none" stroke="#1f1f1f" stroke-width="1.25" stroke-linejoin="miter"/>
<path d="M285.44 258.56 L285.44 244.76 L302.44 227.56 L316.64 241.66 L299.34 258.56 Z" fill="none" stroke="#1f1f1f" stroke-width="1.25" stroke-linejoin="miter"/>
<path d="M285.44 315.16 L285.44 328.96 L302.44 346.16 L316.64 332.06 L299.34 315.16 Z" fill="none" stroke="#1f1f1f" stroke-width="1.25" stroke-linejoin="miter"/>
<circle cx="435.00" cy="286.86" r="24.80" fill="none" stroke="#1f1f1f" stroke-width="1.15"/>
<circle cx="435.00" cy="286.86" r="20.40" fill="none" stroke="#1f1f1f" stroke-width="1.5"/>
<line x1="459.20" y1="286.86" x2="460.60" y2="286.86" stroke="#1f1f1f" stroke-width="1.3" />
<path d="M421.80 229.66 L425.60 225.76 L444.40 225.76 L448.20 229.66 L448.20 249.46 L440.50 257.26 L429.50 257.26 L421.80 249.46 Z" fill="none" stroke="#1f1f1f" stroke-width="1.45" stroke-linejoin="miter"/>
<path d="M423.80 230.36 L426.50 227.66 L443.50 227.66 L446.20 230.36 L446.20 248.66 L439.60 255.36 L430.40 255.36 L423.80 248.66 Z" fill="none" stroke="#1f1f1f" stroke-width="1.0" stroke-linejoin="miter"/>
<line x1="421.80" y1="229.66" x2="423.80" y2="230.36" stroke="#1f1f1f" stroke-width="0.8" />
<line x1="425.60" y1="225.76" x2="426.50" y2="227.66" stroke="#1f1f1f" stroke-width="0.8" />
<line x1="444.40" y1="225.76" x2="443.50" y2="227.66" stroke="#1f1f1f" stroke-width="0.8" />
<line x1="448.20" y1="229.66" x2="446.20" y2="230.36" stroke="#1f1f1f" stroke-width="0.8" />
<line x1="448.20" y1="249.46" x2="446.20" y2="248.66" stroke="#1f1f1f" stroke-width="0.8" />
<line x1="440.50" y1="257.26" x2="439.60" y2="255.36" stroke="#1f1f1f" stroke-width="0.8" />
<line x1="429.50" y1="257.26" x2="430.40" y2="255.36" stroke="#1f1f1f" stroke-width="0.8" />
<line x1="421.80" y1="249.46" x2="423.80" y2="248.66" stroke="#1f1f1f" stroke-width="0.8" />
<line x1="426.80" y1="227.66" x2="426.80" y2="251.76" stroke="#1f1f1f" stroke-width="1.4" />
<line x1="443.20" y1="227.66" x2="443.20" y2="251.76" stroke="#1f1f1f" stroke-width="1.4" />
<path d="M429.85 229.96 L440.15 229.96 L440.15 241.36 L439.30 245.36 L439.30 255.06 L430.70 255.06 L430.70 245.36 L429.85 241.36 Z" fill="none" stroke="#1f1f1f" stroke-width="1.45" stroke-linejoin="miter"/>
<line x1="429.30" y1="241.36" x2="440.70" y2="241.36" stroke="#1f1f1f" stroke-width="1.4" />
<line x1="430.70" y1="245.36" x2="439.30" y2="245.36" stroke="#1f1f1f" stroke-width="1.0" />
<path d="M430.70 245.86 L439.30 245.86 L439.30 255.06 L430.70 255.06 Z" fill="#a8a8a8" stroke="#1f1f1f" stroke-width="0.9" stroke-linejoin="miter"/>
<path d="M433.50 247.66 L436.50 247.66 L436.50 252.76 L433.50 252.76 Z" fill="#fff" stroke="#1f1f1f" stroke-width="0.9" stroke-linejoin="miter"/>
<line x1="430.70" y1="245.86" x2="433.50" y2="247.66" stroke="#1f1f1f" stroke-width="0.6" />
<line x1="430.70" y1="255.06" x2="433.50" y2="252.76" stroke="#1f1f1f" stroke-width="0.6" />
<line x1="439.30" y1="245.86" x2="436.50" y2="247.66" stroke="#1f1f1f" stroke-width="0.6" />
<line x1="439.30" y1="255.06" x2="436.50" y2="252.76" stroke="#1f1f1f" stroke-width="0.6" />
<path d="M492.20 273.66 L496.10 277.46 L496.10 296.26 L492.20 300.06 L472.40 300.06 L464.60 292.36 L464.60 281.36 L472.40 273.66 Z" fill="none" stroke="#1f1f1f" stroke-width="1.45" stroke-linejoin="miter"/>
<path d="M491.50 275.66 L494.20 278.36 L494.20 295.36 L491.50 298.06 L473.20 298.06 L466.50 291.46 L466.50 282.26 L473.20 275.66 Z" fill="none" stroke="#1f1f1f" stroke-width="1.0" stroke-linejoin="miter"/>
<line x1="492.20" y1="273.66" x2="491.50" y2="275.66" stroke="#1f1f1f" stroke-width="0.8" />
<line x1="496.10" y1="277.46" x2="494.20" y2="278.36" stroke="#1f1f1f" stroke-width="0.8" />
<line x1="496.10" y1="296.26" x2="494.20" y2="295.36" stroke="#1f1f1f" stroke-width="0.8" />
<line x1="492.20" y1="300.06" x2="491.50" y2="298.06" stroke="#1f1f1f" stroke-width="0.8" />
<line x1="472.40" y1="300.06" x2="473.20" y2="298.06" stroke="#1f1f1f" stroke-width="0.8" />
<line x1="464.60" y1="292.36" x2="466.50" y2="291.46" stroke="#1f1f1f" stroke-width="0.8" />
<line x1="464.60" y1="281.36" x2="466.50" y2="282.26" stroke="#1f1f1f" stroke-width="0.8" />
<line x1="472.40" y1="273.66" x2="473.20" y2="275.66" stroke="#1f1f1f" stroke-width="0.8" />
<line x1="494.20" y1="278.66" x2="470.10" y2="278.66" stroke="#1f1f1f" stroke-width="1.4" />
<line x1="494.20" y1="295.06" x2="470.10" y2="295.06" stroke="#1f1f1f" stroke-width="1.4" />
<path d="M491.90 281.71 L491.90 292.01 L480.50 292.01 L476.50 291.16 L466.80 291.16 L466.80 282.56 L476.50 282.56 L480.50 281.71 Z" fill="none" stroke="#1f1f1f" stroke-width="1.45" stroke-linejoin="miter"/>
<line x1="480.50" y1="281.16" x2="480.50" y2="292.56" stroke="#1f1f1f" stroke-width="1.4" />
<line x1="476.50" y1="282.56" x2="476.50" y2="291.16" stroke="#1f1f1f" stroke-width="1.0" />
<path d="M476.00 282.56 L476.00 291.16 L466.80 291.16 L466.80 282.56 Z" fill="#a8a8a8" stroke="#1f1f1f" stroke-width="0.9" stroke-linejoin="miter"/>
<path d="M474.20 285.36 L474.20 288.36 L469.10 288.36 L469.10 285.36 Z" fill="#fff" stroke="#1f1f1f" stroke-width="0.9" stroke-linejoin="miter"/>
<line x1="476.00" y1="282.56" x2="474.20" y2="285.36" stroke="#1f1f1f" stroke-width="0.6" />
<line x1="466.80" y1="282.56" x2="469.10" y2="285.36" stroke="#1f1f1f" stroke-width="0.6" />
<line x1="476.00" y1="291.16" x2="474.20" y2="288.36" stroke="#1f1f1f" stroke-width="0.6" />
<line x1="466.80" y1="291.16" x2="469.10" y2="288.36" stroke="#1f1f1f" stroke-width="0.6" />
<path d="M444.40 347.96 L443.50 345.16 L426.50 345.16 L425.60 347.96 Z" fill="#474747" stroke="#1f1f1f" stroke-width="0.6" stroke-linejoin="miter"/>
<path d="M448.20 344.06 L444.40 347.96 L425.60 347.96 L421.80 344.06 L421.80 324.26 L429.50 316.46 L440.50 316.46 L448.20 324.26 Z" fill="none" stroke="#1f1f1f" stroke-width="1.45" stroke-linejoin="miter"/>
<path d="M446.20 343.36 L443.50 346.06 L426.50 346.06 L423.80 343.36 L423.80 325.06 L430.40 318.36 L439.60 318.36 L446.20 325.06 Z" fill="none" stroke="#1f1f1f" stroke-width="1.0" stroke-linejoin="miter"/>
<line x1="448.20" y1="344.06" x2="446.20" y2="343.36" stroke="#1f1f1f" stroke-width="0.8" />
<line x1="444.40" y1="347.96" x2="443.50" y2="346.06" stroke="#1f1f1f" stroke-width="0.8" />
<line x1="425.60" y1="347.96" x2="426.50" y2="346.06" stroke="#1f1f1f" stroke-width="0.8" />
<line x1="421.80" y1="344.06" x2="423.80" y2="343.36" stroke="#1f1f1f" stroke-width="0.8" />
<line x1="421.80" y1="324.26" x2="423.80" y2="325.06" stroke="#1f1f1f" stroke-width="0.8" />
<line x1="429.50" y1="316.46" x2="430.40" y2="318.36" stroke="#1f1f1f" stroke-width="0.8" />
<line x1="440.50" y1="316.46" x2="439.60" y2="318.36" stroke="#1f1f1f" stroke-width="0.8" />
<line x1="448.20" y1="324.26" x2="446.20" y2="325.06" stroke="#1f1f1f" stroke-width="0.8" />
<line x1="443.20" y1="346.06" x2="443.20" y2="321.96" stroke="#1f1f1f" stroke-width="1.4" />
<line x1="426.80" y1="346.06" x2="426.80" y2="321.96" stroke="#1f1f1f" stroke-width="1.4" />
<path d="M440.15 343.76 L429.85 343.76 L429.85 332.36 L430.70 328.36 L430.70 318.66 L439.30 318.66 L439.30 328.36 L440.15 332.36 Z" fill="none" stroke="#1f1f1f" stroke-width="1.45" stroke-linejoin="miter"/>
<line x1="440.70" y1="332.36" x2="429.30" y2="332.36" stroke="#1f1f1f" stroke-width="1.4" />
<line x1="439.30" y1="328.36" x2="430.70" y2="328.36" stroke="#1f1f1f" stroke-width="1.0" />
<path d="M439.30 327.86 L430.70 327.86 L430.70 318.66 L439.30 318.66 Z" fill="#a8a8a8" stroke="#1f1f1f" stroke-width="0.9" stroke-linejoin="miter"/>
<path d="M436.50 326.06 L433.50 326.06 L433.50 320.96 L436.50 320.96 Z" fill="#fff" stroke="#1f1f1f" stroke-width="0.9" stroke-linejoin="miter"/>
<line x1="439.30" y1="327.86" x2="436.50" y2="326.06" stroke="#1f1f1f" stroke-width="0.6" />
<line x1="439.30" y1="318.66" x2="436.50" y2="320.96" stroke="#1f1f1f" stroke-width="0.6" />
<line x1="430.70" y1="327.86" x2="433.50" y2="326.06" stroke="#1f1f1f" stroke-width="0.6" />
<line x1="430.70" y1="318.66" x2="433.50" y2="320.96" stroke="#1f1f1f" stroke-width="0.6" />
<path d="M377.80 300.06 L373.90 296.26 L373.90 277.46 L377.80 273.66 L397.60 273.66 L405.40 281.36 L405.40 292.36 L397.60 300.06 Z" fill="none" stroke="#1f1f1f" stroke-width="1.45" stroke-linejoin="miter"/>
<path d="M378.50 298.06 L375.80 295.36 L375.80 278.36 L378.50 275.66 L396.80 275.66 L403.50 282.26 L403.50 291.46 L396.80 298.06 Z" fill="none" stroke="#1f1f1f" stroke-width="1.0" stroke-linejoin="miter"/>
<line x1="377.80" y1="300.06" x2="378.50" y2="298.06" stroke="#1f1f1f" stroke-width="0.8" />
<line x1="373.90" y1="296.26" x2="375.80" y2="295.36" stroke="#1f1f1f" stroke-width="0.8" />
<line x1="373.90" y1="277.46" x2="375.80" y2="278.36" stroke="#1f1f1f" stroke-width="0.8" />
<line x1="377.80" y1="273.66" x2="378.50" y2="275.66" stroke="#1f1f1f" stroke-width="0.8" />
<line x1="397.60" y1="273.66" x2="396.80" y2="275.66" stroke="#1f1f1f" stroke-width="0.8" />
<line x1="405.40" y1="281.36" x2="403.50" y2="282.26" stroke="#1f1f1f" stroke-width="0.8" />
<line x1="405.40" y1="292.36" x2="403.50" y2="291.46" stroke="#1f1f1f" stroke-width="0.8" />
<line x1="397.60" y1="300.06" x2="396.80" y2="298.06" stroke="#1f1f1f" stroke-width="0.8" />
<line x1="375.80" y1="295.06" x2="399.90" y2="295.06" stroke="#1f1f1f" stroke-width="1.4" />
<line x1="375.80" y1="278.66" x2="399.90" y2="278.66" stroke="#1f1f1f" stroke-width="1.4" />
<path d="M378.10 292.01 L378.10 281.71 L389.50 281.71 L393.50 282.56 L403.20 282.56 L403.20 291.16 L393.50 291.16 L389.50 292.01 Z" fill="none" stroke="#1f1f1f" stroke-width="1.45" stroke-linejoin="miter"/>
<line x1="389.50" y1="292.56" x2="389.50" y2="281.16" stroke="#1f1f1f" stroke-width="1.4" />
<line x1="393.50" y1="291.16" x2="393.50" y2="282.56" stroke="#1f1f1f" stroke-width="1.0" />
<path d="M394.00 291.16 L394.00 282.56 L403.20 282.56 L403.20 291.16 Z" fill="#a8a8a8" stroke="#1f1f1f" stroke-width="0.9" stroke-linejoin="miter"/>
<path d="M395.80 288.36 L395.80 285.36 L400.90 285.36 L400.90 288.36 Z" fill="#fff" stroke="#1f1f1f" stroke-width="0.9" stroke-linejoin="miter"/>
<line x1="394.00" y1="291.16" x2="395.80" y2="288.36" stroke="#1f1f1f" stroke-width="0.6" />
<line x1="403.20" y1="291.16" x2="400.90" y2="288.36" stroke="#1f1f1f" stroke-width="0.6" />
<line x1="394.00" y1="282.56" x2="395.80" y2="285.36" stroke="#1f1f1f" stroke-width="0.6" />
<line x1="403.20" y1="282.56" x2="400.90" y2="285.36" stroke="#1f1f1f" stroke-width="0.6" />
<path d="M406.60 258.56 L406.60 244.76 L389.60 227.56 L375.40 241.66 L392.70 258.56 Z" fill="none" stroke="#1f1f1f" stroke-width="1.25" stroke-linejoin="miter"/>
<path d="M406.60 315.16 L406.60 328.96 L389.60 346.16 L375.40 332.06 L392.70 315.16 Z" fill="none" stroke="#1f1f1f" stroke-width="1.25" stroke-linejoin="miter"/>
<path d="M463.40 258.56 L463.40 244.76 L480.40 227.56 L494.60 241.66 L477.30 258.56 Z" fill="none" stroke="#1f1f1f" stroke-width="1.25" stroke-linejoin="miter"/>
<path d="M463.40 315.16 L463.40 328.96 L480.40 346.16 L494.60 332.06 L477.30 315.16 Z" fill="none" stroke="#1f1f1f" stroke-width="1.25" stroke-linejoin="miter"/>
<circle cx="346.20" cy="197.60" r="18.65" fill="none" stroke="#1f1f1f" stroke-width="1.45"/>
<circle cx="346.20" cy="197.60" r="16.50" fill="none" stroke="#1f1f1f" stroke-width="0.85"/>
<circle cx="346.20" cy="197.60" r="13.00" fill="none" stroke="#1f1f1f" stroke-width="0.95"/>
<circle cx="346.20" cy="197.60" r="11.85" fill="none" stroke="#1f1f1f" stroke-width="0.55"/>
<circle cx="346.20" cy="197.60" r="9.35" fill="none" stroke="#141414" stroke-width="3.5"/>
<line x1="357.60" y1="197.60" x2="359.50" y2="197.60" stroke="#1f1f1f" stroke-width="1.0" />
<line x1="362.70" y1="197.60" x2="365.30" y2="197.60" stroke="#1f1f1f" stroke-width="1.0" />
<circle cx="207.90" cy="197.60" r="18.65" fill="none" stroke="#1f1f1f" stroke-width="1.45"/>
<circle cx="207.90" cy="197.60" r="16.50" fill="none" stroke="#1f1f1f" stroke-width="0.85"/>
<circle cx="207.90" cy="197.60" r="13.00" fill="none" stroke="#1f1f1f" stroke-width="0.95"/>
<circle cx="207.90" cy="197.60" r="11.85" fill="none" stroke="#1f1f1f" stroke-width="0.55"/>
<circle cx="207.90" cy="197.60" r="9.35" fill="none" stroke="#141414" stroke-width="3.5"/>
<line x1="219.30" y1="197.60" x2="221.20" y2="197.60" stroke="#1f1f1f" stroke-width="1.0" />
<line x1="224.40" y1="197.60" x2="227.00" y2="197.60" stroke="#1f1f1f" stroke-width="1.0" />
<circle cx="484.50" cy="197.60" r="18.65" fill="none" stroke="#1f1f1f" stroke-width="1.45"/>
<circle cx="484.50" cy="197.60" r="16.50" fill="none" stroke="#1f1f1f" stroke-width="0.85"/>
<circle cx="484.50" cy="197.60" r="13.00" fill="none" stroke="#1f1f1f" stroke-width="0.95"/>
<circle cx="484.50" cy="197.60" r="11.85" fill="none" stroke="#1f1f1f" stroke-width="0.55"/>
<circle cx="484.50" cy="197.60" r="9.35" fill="none" stroke="#141414" stroke-width="3.5"/>
<line x1="495.90" y1="197.60" x2="497.80" y2="197.60" stroke="#1f1f1f" stroke-width="1.0" />
<line x1="501.00" y1="197.60" x2="503.60" y2="197.60" stroke="#1f1f1f" stroke-width="1.0" />
<circle cx="346.20" cy="59.30" r="18.65" fill="none" stroke="#1f1f1f" stroke-width="1.45"/>
<circle cx="346.20" cy="59.30" r="16.50" fill="none" stroke="#1f1f1f" stroke-width="0.85"/>
<circle cx="346.20" cy="59.30" r="13.00" fill="none" stroke="#1f1f1f" stroke-width="0.95"/>
<circle cx="346.20" cy="59.30" r="11.85" fill="none" stroke="#1f1f1f" stroke-width="0.55"/>
<circle cx="346.20" cy="59.30" r="9.35" fill="none" stroke="#141414" stroke-width="3.5"/>
<line x1="357.60" y1="59.30" x2="359.50" y2="59.30" stroke="#1f1f1f" stroke-width="1.0" />
<line x1="362.70" y1="59.30" x2="365.30" y2="59.30" stroke="#1f1f1f" stroke-width="1.0" />
<circle cx="346.20" cy="335.90" r="18.65" fill="none" stroke="#1f1f1f" stroke-width="1.45"/>
<circle cx="346.20" cy="335.90" r="16.50" fill="none" stroke="#1f1f1f" stroke-width="0.85"/>
<circle cx="346.20" cy="335.90" r="13.00" fill="none" stroke="#1f1f1f" stroke-width="0.95"/>
<circle cx="346.20" cy="335.90" r="11.85" fill="none" stroke="#1f1f1f" stroke-width="0.55"/>
<circle cx="346.20" cy="335.90" r="9.35" fill="none" stroke="#141414" stroke-width="3.5"/>
<line x1="357.60" y1="335.90" x2="359.50" y2="335.90" stroke="#1f1f1f" stroke-width="1.0" />
<line x1="362.70" y1="335.90" x2="365.30" y2="335.90" stroke="#1f1f1f" stroke-width="1.0" />
<path d="M282.20 365.60 L282.20 385.40 L305.60 385.40 L305.60 365.60" fill="none" stroke="#1f1f1f" stroke-width="1.3" stroke-linejoin="miter"/>
<rect x="283.30" y="366.5" width="10.00" height="14.2" rx="1.6" fill="none" stroke="#1f1f1f" stroke-width="1.1"/>
<rect x="294.50" y="366.5" width="9.70" height="14.2" rx="1.6" fill="none" stroke="#1f1f1f" stroke-width="1.1"/>
<line x1="282.20" y1="381.80" x2="305.60" y2="381.80" stroke="#1f1f1f" stroke-width="0.8" />
<line x1="282.20" y1="383.60" x2="305.60" y2="383.60" stroke="#1f1f1f" stroke-width="0.8" />
<rect x="283.40" y="384.8" width="21" height="2.8" fill="#1f1f1f"/>
<rect x="280.30" y="387.6" width="27.2" height="4.1" fill="#fff" stroke="#1f1f1f" stroke-width="1.6"/>
<path d="M386.90 365.60 L386.90 385.40 L410.30 385.40 L410.30 365.60" fill="none" stroke="#1f1f1f" stroke-width="1.3" stroke-linejoin="miter"/>
<rect x="388.00" y="366.5" width="10.00" height="14.2" rx="1.6" fill="none" stroke="#1f1f1f" stroke-width="1.1"/>
<rect x="399.20" y="366.5" width="9.70" height="14.2" rx="1.6" fill="none" stroke="#1f1f1f" stroke-width="1.1"/>
<line x1="386.90" y1="381.80" x2="410.30" y2="381.80" stroke="#1f1f1f" stroke-width="0.8" />
<line x1="386.90" y1="383.60" x2="410.30" y2="383.60" stroke="#1f1f1f" stroke-width="0.8" />
<rect x="388.10" y="384.8" width="21" height="2.8" fill="#1f1f1f"/>
<rect x="385.00" y="387.6" width="27.2" height="4.1" fill="#fff" stroke="#1f1f1f" stroke-width="1.6"/>
<line x1="440.50" y1="108.80" x2="559.50" y2="108.80" stroke="#1f1f1f" stroke-width="1.5" />
<line x1="440.50" y1="286.76" x2="559.50" y2="286.76" stroke="#1f1f1f" stroke-width="1.5" />
<line x1="556.90" y1="108.90" x2="556.90" y2="286.86" stroke="#1f1f1f" stroke-width="1.5" />
<path d="M556.90 108.80 L559.10 119.40 L554.70 119.40 Z" fill="#1f1f1f" stroke="none"/>
<path d="M556.90 286.76 L554.70 276.16 L559.10 276.16 Z" fill="#1f1f1f" stroke="none"/>
<line x1="547.40" y1="29.90" x2="591.60" y2="29.90" stroke="#1f1f1f" stroke-width="1.5" />
<line x1="547.40" y1="365.30" x2="591.80" y2="365.30" stroke="#1f1f1f" stroke-width="1.5" />
<line x1="588.90" y1="29.90" x2="588.90" y2="365.30" stroke="#1f1f1f" stroke-width="1.5" />
<path d="M588.90 29.90 L591.10 40.50 L586.70 40.50 Z" fill="#1f1f1f" stroke="none"/>
<path d="M588.90 365.30 L586.70 354.70 L591.10 354.70 Z" fill="#1f1f1f" stroke="none"/>
<line x1="257.04" y1="292.46" x2="257.04" y2="415.20" stroke="#1f1f1f" stroke-width="1.5" />
<line x1="435.30" y1="292.46" x2="435.30" y2="415.20" stroke="#1f1f1f" stroke-width="1.5" />
<line x1="255.00" y1="412.85" x2="437.20" y2="412.85" stroke="#1f1f1f" stroke-width="1.5" />
<path d="M257.04 412.85 L267.64 410.65 L267.64 415.05 Z" fill="#1f1f1f" stroke="none"/>
<path d="M435.30 412.85 L424.70 415.05 L424.70 410.65 Z" fill="#1f1f1f" stroke="none"/>
<line x1="178.35" y1="369.40" x2="178.35" y2="440.00" stroke="#1f1f1f" stroke-width="1.5" />
<line x1="514.00" y1="369.40" x2="514.00" y2="440.00" stroke="#1f1f1f" stroke-width="1.5" />
<line x1="176.20" y1="437.70" x2="516.50" y2="437.70" stroke="#1f1f1f" stroke-width="1.5" />
<path d="M178.35 437.70 L188.95 435.50 L188.95 439.90 Z" fill="#1f1f1f" stroke="none"/>
<path d="M514.00 437.70 L503.40 439.90 L503.40 435.50 Z" fill="#1f1f1f" stroke="none"/>
<line x1="148.45" y1="369.40" x2="148.45" y2="466.30" stroke="#1f1f1f" stroke-width="1.5" />
<line x1="543.60" y1="369.40" x2="543.60" y2="466.30" stroke="#1f1f1f" stroke-width="1.5" />
<line x1="146.20" y1="464.10" x2="545.70" y2="464.10" stroke="#1f1f1f" stroke-width="1.5" />
<path d="M148.45 464.10 L159.05 461.90 L159.05 466.30 Z" fill="#1f1f1f" stroke="none"/>
<path d="M543.60 464.10 L533.00 466.30 L533.00 461.90 Z" fill="#1f1f1f" stroke="none"/>
<g transform="translate(334.20 411.20) rotate(0) scale(0.955)" fill="none" stroke="#1f1f1f" stroke-width="2.0" stroke-linecap="round" stroke-linejoin="round">
<g transform="translate(0 -17.4) ">
<path transform="translate(0.00 0) matrix(0.94 0 -0.22 1 3.828 0)" d="M9.2 5.6C9.2 2.2 7.4 0 4.8 0S.4 2.2.4 5.6 2.2 11.2 4.8 11.2 9.2 9 9.2 5.6V9.4C9.2 14.4 7.4 17.4 4.4 17.4 2.6 17.4 1.2 16.4.8 14.7"/>
<path transform="translate(12.00 0) matrix(0.94 0 -0.22 1 3.828 0)" d="M4.8 0C1.9 0 .35 3.5 .35 8.7S1.9 17.4 4.8 17.4 9.25 13.9 9.25 8.7 7.7 0 4.8 0Z"/>
</g></g>
<g transform="translate(327.60 436.00) rotate(0) scale(0.955)" fill="none" stroke="#1f1f1f" stroke-width="2.0" stroke-linecap="round" stroke-linejoin="round">
<g transform="translate(0 -17.4) ">
<path transform="translate(0.00 0) matrix(0.94 0 -0.22 1 3.828 0)" d="M1.6 3.9L5.2 0V17.4"/>
<path transform="translate(12.00 0) matrix(0.94 0 -0.22 1 3.828 0)" d="M.5 0H9.3Q4.6 8.4 3.3 17.4"/>
<path transform="translate(24.00 0) matrix(0.94 0 -0.22 1 3.828 0)" d="M4.8 0C1.9 0 .35 3.5 .35 8.7S1.9 17.4 4.8 17.4 9.25 13.9 9.25 8.7 7.7 0 4.8 0Z"/>
</g></g>
<g transform="translate(328.90 462.40) rotate(0) scale(0.955)" fill="none" stroke="#1f1f1f" stroke-width="2.0" stroke-linecap="round" stroke-linejoin="round">
<g transform="translate(0 -17.4) ">
<path transform="translate(0.00 0) matrix(0.94 0 -0.22 1 3.828 0)" d="M1.2 3.7C1.6 1.4 3 0 5 0 7.4 0 9 1.6 9 4 9 6 8 7.4 6.2 9.2 3.4 12 1.2 14.2.2 16.7 1.6 15.5 3 15.6 4.6 16.6 6.2 17.6 7.8 17.7 9.4 16.4"/>
<path transform="translate(12.00 0) matrix(0.94 0 -0.22 1 3.828 0)" d="M4.8 0C1.9 0 .35 3.5 .35 8.7S1.9 17.4 4.8 17.4 9.25 13.9 9.25 8.7 7.7 0 4.8 0Z"/>
<path transform="translate(24.00 0) matrix(0.94 0 -0.22 1 3.828 0)" d="M4.8 0C1.9 0 .35 3.5 .35 8.7S1.9 17.4 4.8 17.4 9.25 13.9 9.25 8.7 7.7 0 4.8 0Z"/>
</g></g>
<g transform="translate(558.10 185.60) rotate(90) scale(1.0)" fill="none" stroke="#1f1f1f" stroke-width="1.9" stroke-linecap="round" stroke-linejoin="round">
<g transform="translate(0 -17.4) ">
<path transform="translate(0.00 0) matrix(0.94 0 -0.22 1 3.828 0)" d="M9.2 5.6C9.2 2.2 7.4 0 4.8 0S.4 2.2.4 5.6 2.2 11.2 4.8 11.2 9.2 9 9.2 5.6V9.4C9.2 14.4 7.4 17.4 4.4 17.4 2.6 17.4 1.2 16.4.8 14.7"/>
<path transform="translate(12.00 0) matrix(0.94 0 -0.22 1 3.828 0)" d="M4.8 0C1.9 0 .35 3.5 .35 8.7S1.9 17.4 4.8 17.4 9.25 13.9 9.25 8.7 7.7 0 4.8 0Z"/>
</g></g>
<g transform="translate(590.50 178.90) rotate(90) scale(0.955)" fill="none" stroke="#1f1f1f" stroke-width="2.0" stroke-linecap="round" stroke-linejoin="round">
<g transform="translate(0 -17.4) ">
<path transform="translate(0.00 0) matrix(0.94 0 -0.22 1 3.828 0)" d="M1.6 3.9L5.2 0V17.4"/>
<path transform="translate(12.00 0) matrix(0.94 0 -0.22 1 3.828 0)" d="M.5 0H9.3Q4.6 8.4 3.3 17.4"/>
<path transform="translate(24.00 0) matrix(0.94 0 -0.22 1 3.828 0)" d="M4.8 0C1.9 0 .35 3.5 .35 8.7S1.9 17.4 4.8 17.4 9.25 13.9 9.25 8.7 7.7 0 4.8 0Z"/>
</g></g>
<line x1="185.40" y1="575.55" x2="522.60" y2="575.55" stroke="#181818" stroke-width="1.35" />
<line x1="187.60" y1="577.50" x2="520.00" y2="577.50" stroke="#333" stroke-width="0.7" />
<line x1="186.50" y1="576.55" x2="521.00" y2="576.55" stroke="#cfcfcf" stroke-width="0.8" />
<line x1="186.15" y1="575.00" x2="186.15" y2="639.40" stroke="#181818" stroke-width="1.3" />
<line x1="187.85" y1="577.50" x2="187.85" y2="639.40" stroke="#333" stroke-width="0.65" />
<line x1="520.95" y1="577.00" x2="520.95" y2="639.40" stroke="#8c8c8c" stroke-width="1.7" />
<line x1="519.70" y1="577.20" x2="519.70" y2="639.40" stroke="#1c1c1c" stroke-width="0.95" />
<line x1="522.20" y1="575.20" x2="522.20" y2="639.40" stroke="#1c1c1c" stroke-width="0.95" />
<line x1="157.30" y1="694.40" x2="551.20" y2="694.40" stroke="#5a5a5a" stroke-width="1.3" />
<line x1="157.30" y1="693.75" x2="551.20" y2="693.75" stroke="#1c1c1c" stroke-width="1.0" stroke-linecap="square"/>
<line x1="157.30" y1="695.05" x2="551.20" y2="695.05" stroke="#1c1c1c" stroke-width="1.0" stroke-linecap="square"/>
<line x1="157.50" y1="641.00" x2="157.50" y2="694.40" stroke="#d4d4d4" stroke-width="2.0" />
<line x1="158.50" y1="641.00" x2="158.50" y2="694.40" stroke="#1c1c1c" stroke-width="1.0" stroke-linecap="square"/>
<line x1="156.50" y1="641.00" x2="156.50" y2="694.40" stroke="#1c1c1c" stroke-width="1.0" stroke-linecap="square"/>
<line x1="551.00" y1="641.00" x2="551.00" y2="694.40" stroke="#d4d4d4" stroke-width="2.0" />
<line x1="552.00" y1="641.00" x2="552.00" y2="694.40" stroke="#1c1c1c" stroke-width="1.0" stroke-linecap="square"/>
<line x1="550.00" y1="641.00" x2="550.00" y2="694.40" stroke="#1c1c1c" stroke-width="1.0" stroke-linecap="square"/>
<line x1="156.00" y1="639.90" x2="552.50" y2="639.90" stroke="#1c1c1c" stroke-width="1.1" />
<line x1="156.00" y1="642.30" x2="552.50" y2="642.30" stroke="#1c1c1c" stroke-width="1.25" />
<line x1="157.00" y1="641.10" x2="551.50" y2="641.10" stroke="#d0d0d0" stroke-width="1.0" />
<line x1="185.90" y1="638.80" x2="522.00" y2="638.80" stroke="#1c1c1c" stroke-width="1.3" />
<line x1="188.00" y1="640.55" x2="520.00" y2="640.55" stroke="#707070" stroke-width="0.9" />
<path d="M205.27 574.60 L205.27 561.20 L206.67 560.00 L220.37 560.00 L222.57 558.90 L223.47 558.60" fill="none" stroke="#1f1f1f" stroke-width="1.3" stroke-linejoin="miter"/>
<line x1="206.37" y1="561.00" x2="206.37" y2="574.60" stroke="#8f8f8f" stroke-width="2.0" />
<line x1="207.57" y1="560.80" x2="207.57" y2="574.60" stroke="#1f1f1f" stroke-width="0.9" />
<line x1="206.27" y1="561.40" x2="223.17" y2="561.40" stroke="#1f1f1f" stroke-width="0.9" />
<line x1="227.27" y1="561.60" x2="227.27" y2="574.60" stroke="#1f1f1f" stroke-width="1.0" />
<line x1="232.97" y1="560.50" x2="232.97" y2="574.60" stroke="#555" stroke-width="0.7" />
<path d="M222.77 559.40 L234.87 559.40 L234.87 561.30 L220.77 561.30 Z" fill="none" stroke="#1f1f1f" stroke-width="0.7" stroke-linejoin="miter"/>
<path d="M223.47 560.00 L223.47 555.50 L224.57 555.50 L224.57 552.40 L224.02 551.80 L225.77 547.20 L232.57 547.20 L234.32 551.80 L233.77 552.40 L233.77 555.50 L234.87 555.50 L234.87 560.00" fill="#fff" stroke="#1f1f1f" stroke-width="1.2" stroke-linejoin="miter"/>
<line x1="224.02" y1="551.80" x2="234.32" y2="551.80" stroke="#1f1f1f" stroke-width="1.0" />
<line x1="223.47" y1="555.50" x2="234.87" y2="555.50" stroke="#1f1f1f" stroke-width="1.0" />
<line x1="223.47" y1="558.70" x2="234.87" y2="558.70" stroke="#1f1f1f" stroke-width="1.0" />
<line x1="234.87" y1="555.50" x2="234.87" y2="574.60" stroke="#1f1f1f" stroke-width="1.3" />
<line x1="205.27" y1="574.00" x2="237.07" y2="574.00" stroke="#1f1f1f" stroke-width="2.2" />
<path d="M253.57 574.60 L253.57 561.50 L276.97 561.50 L276.97 574.60" fill="none" stroke="#1f1f1f" stroke-width="1.3" stroke-linejoin="miter"/>
<line x1="254.72" y1="561.50" x2="254.72" y2="574.60" stroke="#9a9a9a" stroke-width="2.0" />
<line x1="275.67" y1="561.50" x2="275.67" y2="574.60" stroke="#9a9a9a" stroke-width="2.2" />
<line x1="255.87" y1="561.50" x2="255.87" y2="574.60" stroke="#1f1f1f" stroke-width="0.9" />
<line x1="274.37" y1="561.50" x2="274.37" y2="574.60" stroke="#1f1f1f" stroke-width="0.9" />
<line x1="253.57" y1="573.00" x2="276.97" y2="573.00" stroke="#1f1f1f" stroke-width="0.8" />
<line x1="253.57" y1="574.60" x2="276.97" y2="574.60" stroke="#1f1f1f" stroke-width="1.0" />
<path d="M259.37 561.50 L259.37 558.70 L259.97 558.70 L259.97 555.40 L261.17 555.40 L260.67 551.90 L262.77 547.20 L267.77 547.20 L269.87 551.90 L269.37 555.40 L270.57 555.40 L270.57 558.70 L271.17 558.70 L271.17 561.50" fill="#fff" stroke="#1f1f1f" stroke-width="1.2" stroke-linejoin="miter"/>
<line x1="260.67" y1="551.90" x2="269.87" y2="551.90" stroke="#1f1f1f" stroke-width="1.0" />
<line x1="259.97" y1="555.40" x2="270.57" y2="555.40" stroke="#1f1f1f" stroke-width="1.0" />
<line x1="259.37" y1="558.70" x2="271.17" y2="558.70" stroke="#1f1f1f" stroke-width="1.0" />
<line x1="258.87" y1="560.40" x2="271.67" y2="560.40" stroke="#1f1f1f" stroke-width="0.9" />
<path d="M324.87 574.60 L324.87 561.20 L323.47 560.00 L310.77 560.00 L308.57 558.90 L307.67 558.60" fill="none" stroke="#1f1f1f" stroke-width="1.3" stroke-linejoin="miter"/>
<line x1="323.77" y1="561.00" x2="323.77" y2="574.60" stroke="#8f8f8f" stroke-width="2.0" />
<line x1="322.57" y1="560.80" x2="322.57" y2="574.60" stroke="#1f1f1f" stroke-width="0.9" />
<line x1="323.87" y1="561.40" x2="307.97" y2="561.40" stroke="#1f1f1f" stroke-width="0.9" />
<line x1="303.87" y1="561.60" x2="303.87" y2="574.60" stroke="#1f1f1f" stroke-width="1.0" />
<line x1="298.17" y1="560.50" x2="298.17" y2="574.60" stroke="#555" stroke-width="0.7" />
<path d="M308.37 559.40 L296.27 559.40 L296.27 561.30 L310.37 561.30 Z" fill="none" stroke="#1f1f1f" stroke-width="0.7" stroke-linejoin="miter"/>
<path d="M296.27 560.00 L296.27 555.50 L297.37 555.50 L297.37 552.40 L296.82 551.80 L298.57 547.20 L305.37 547.20 L307.12 551.80 L306.57 552.40 L306.57 555.50 L307.67 555.50 L307.67 560.00" fill="#fff" stroke="#1f1f1f" stroke-width="1.2" stroke-linejoin="miter"/>
<line x1="296.82" y1="551.80" x2="307.12" y2="551.80" stroke="#1f1f1f" stroke-width="1.0" />
<line x1="296.27" y1="555.50" x2="307.67" y2="555.50" stroke="#1f1f1f" stroke-width="1.0" />
<line x1="296.27" y1="558.70" x2="307.67" y2="558.70" stroke="#1f1f1f" stroke-width="1.0" />
<line x1="296.27" y1="555.50" x2="296.27" y2="574.60" stroke="#1f1f1f" stroke-width="1.3" />
<line x1="293.27" y1="574.00" x2="325.67" y2="574.00" stroke="#1f1f1f" stroke-width="2.2" />
<path d="M383.23 574.60 L383.23 561.20 L384.63 560.00 L398.33 560.00 L400.53 558.90 L401.43 558.60" fill="none" stroke="#1f1f1f" stroke-width="1.3" stroke-linejoin="miter"/>
<line x1="384.33" y1="561.00" x2="384.33" y2="574.60" stroke="#8f8f8f" stroke-width="2.0" />
<line x1="385.53" y1="560.80" x2="385.53" y2="574.60" stroke="#1f1f1f" stroke-width="0.9" />
<line x1="384.23" y1="561.40" x2="401.13" y2="561.40" stroke="#1f1f1f" stroke-width="0.9" />
<line x1="405.23" y1="561.60" x2="405.23" y2="574.60" stroke="#1f1f1f" stroke-width="1.0" />
<line x1="410.93" y1="560.50" x2="410.93" y2="574.60" stroke="#555" stroke-width="0.7" />
<path d="M400.73 559.40 L412.83 559.40 L412.83 561.30 L398.73 561.30 Z" fill="none" stroke="#1f1f1f" stroke-width="0.7" stroke-linejoin="miter"/>
<path d="M401.43 560.00 L401.43 555.50 L402.53 555.50 L402.53 552.40 L401.98 551.80 L403.73 547.20 L410.53 547.20 L412.28 551.80 L411.73 552.40 L411.73 555.50 L412.83 555.50 L412.83 560.00" fill="#fff" stroke="#1f1f1f" stroke-width="1.2" stroke-linejoin="miter"/>
<line x1="401.98" y1="551.80" x2="412.28" y2="551.80" stroke="#1f1f1f" stroke-width="1.0" />
<line x1="401.43" y1="555.50" x2="412.83" y2="555.50" stroke="#1f1f1f" stroke-width="1.0" />
<line x1="401.43" y1="558.70" x2="412.83" y2="558.70" stroke="#1f1f1f" stroke-width="1.0" />
<line x1="412.83" y1="555.50" x2="412.83" y2="574.60" stroke="#1f1f1f" stroke-width="1.3" />
<line x1="383.23" y1="574.00" x2="415.03" y2="574.00" stroke="#1f1f1f" stroke-width="2.2" />
<path d="M431.53 574.60 L431.53 561.50 L454.93 561.50 L454.93 574.60" fill="none" stroke="#1f1f1f" stroke-width="1.3" stroke-linejoin="miter"/>
<line x1="432.68" y1="561.50" x2="432.68" y2="574.60" stroke="#9a9a9a" stroke-width="2.0" />
<line x1="453.63" y1="561.50" x2="453.63" y2="574.60" stroke="#9a9a9a" stroke-width="2.2" />
<line x1="433.83" y1="561.50" x2="433.83" y2="574.60" stroke="#1f1f1f" stroke-width="0.9" />
<line x1="452.33" y1="561.50" x2="452.33" y2="574.60" stroke="#1f1f1f" stroke-width="0.9" />
<line x1="431.53" y1="573.00" x2="454.93" y2="573.00" stroke="#1f1f1f" stroke-width="0.8" />
<line x1="431.53" y1="574.60" x2="454.93" y2="574.60" stroke="#1f1f1f" stroke-width="1.0" />
<path d="M437.33 561.50 L437.33 558.70 L437.93 558.70 L437.93 555.40 L439.13 555.40 L438.63 551.90 L440.73 547.20 L445.73 547.20 L447.83 551.90 L447.33 555.40 L448.53 555.40 L448.53 558.70 L449.13 558.70 L449.13 561.50" fill="#fff" stroke="#1f1f1f" stroke-width="1.2" stroke-linejoin="miter"/>
<line x1="438.63" y1="551.90" x2="447.83" y2="551.90" stroke="#1f1f1f" stroke-width="1.0" />
<line x1="437.93" y1="555.40" x2="448.53" y2="555.40" stroke="#1f1f1f" stroke-width="1.0" />
<line x1="437.33" y1="558.70" x2="449.13" y2="558.70" stroke="#1f1f1f" stroke-width="1.0" />
<line x1="436.83" y1="560.40" x2="449.63" y2="560.40" stroke="#1f1f1f" stroke-width="0.9" />
<path d="M502.83 574.60 L502.83 561.20 L501.43 560.00 L488.73 560.00 L486.53 558.90 L485.63 558.60" fill="none" stroke="#1f1f1f" stroke-width="1.3" stroke-linejoin="miter"/>
<line x1="501.73" y1="561.00" x2="501.73" y2="574.60" stroke="#8f8f8f" stroke-width="2.0" />
<line x1="500.53" y1="560.80" x2="500.53" y2="574.60" stroke="#1f1f1f" stroke-width="0.9" />
<line x1="501.83" y1="561.40" x2="485.93" y2="561.40" stroke="#1f1f1f" stroke-width="0.9" />
<line x1="481.83" y1="561.60" x2="481.83" y2="574.60" stroke="#1f1f1f" stroke-width="1.0" />
<line x1="476.13" y1="560.50" x2="476.13" y2="574.60" stroke="#555" stroke-width="0.7" />
<path d="M486.33 559.40 L474.23 559.40 L474.23 561.30 L488.33 561.30 Z" fill="none" stroke="#1f1f1f" stroke-width="0.7" stroke-linejoin="miter"/>
<path d="M474.23 560.00 L474.23 555.50 L475.33 555.50 L475.33 552.40 L474.78 551.80 L476.53 547.20 L483.33 547.20 L485.08 551.80 L484.53 552.40 L484.53 555.50 L485.63 555.50 L485.63 560.00" fill="#fff" stroke="#1f1f1f" stroke-width="1.2" stroke-linejoin="miter"/>
<line x1="474.78" y1="551.80" x2="485.08" y2="551.80" stroke="#1f1f1f" stroke-width="1.0" />
<line x1="474.23" y1="555.50" x2="485.63" y2="555.50" stroke="#1f1f1f" stroke-width="1.0" />
<line x1="474.23" y1="558.70" x2="485.63" y2="558.70" stroke="#1f1f1f" stroke-width="1.0" />
<line x1="474.23" y1="555.50" x2="474.23" y2="574.60" stroke="#1f1f1f" stroke-width="1.3" />
<line x1="471.23" y1="574.00" x2="503.63" y2="574.00" stroke="#1f1f1f" stroke-width="2.2" />
<circle cx="265.30" cy="667.70" r="10.55" fill="none" stroke="#161616" stroke-width="3.3"/>
<circle cx="265.30" cy="667.70" r="8.30" fill="none" stroke="#1f1f1f" stroke-width="0.7"/>
<path d="M272.10 667.70 L268.70 673.59 L261.90 673.59 L258.50 667.70 L261.90 661.81 L268.70 661.81 Z" fill="none" stroke="#1f1f1f" stroke-width="1.1" stroke-linejoin="miter"/>
<circle cx="443.20" cy="667.70" r="10.55" fill="none" stroke="#161616" stroke-width="3.3"/>
<circle cx="443.20" cy="667.70" r="8.30" fill="none" stroke="#1f1f1f" stroke-width="0.7"/>
<path d="M450.00 667.70 L446.60 673.59 L439.80 673.59 L436.40 667.70 L439.80 661.81 L446.60 661.81 Z" fill="none" stroke="#1f1f1f" stroke-width="1.1" stroke-linejoin="miter"/>
<ellipse cx="301.60" cy="659.90" rx="11.25" ry="13.0" fill="none" stroke="#1f1f1f" stroke-width="1.45"/>
<ellipse cx="301.60" cy="659.90" rx="5.0" ry="5.9" fill="none" stroke="#1f1f1f" stroke-width="2.3"/>
<line x1="288.40" y1="659.90" x2="315.00" y2="659.90" stroke="#1f1f1f" stroke-width="2.5" />
<rect x="298.50" y="658.00" width="6.2" height="3.8" rx="1.2" fill="#fff" stroke="#1f1f1f" stroke-width="1.0"/>
<line x1="308.00" y1="653.60" x2="311.20" y2="653.91" stroke="#1f1f1f" stroke-width="1.5" />
<line x1="308.00" y1="656.80" x2="311.20" y2="656.95" stroke="#1f1f1f" stroke-width="1.5" />
<line x1="308.00" y1="663.00" x2="311.20" y2="662.85" stroke="#1f1f1f" stroke-width="1.5" />
<line x1="308.00" y1="666.20" x2="311.20" y2="665.88" stroke="#1f1f1f" stroke-width="1.5" />
<line x1="309.80" y1="652.90" x2="309.80" y2="666.90" stroke="#1f1f1f" stroke-width="1.0" />
<ellipse cx="406.50" cy="659.90" rx="11.25" ry="13.0" fill="none" stroke="#1f1f1f" stroke-width="1.45"/>
<ellipse cx="406.50" cy="659.90" rx="5.0" ry="5.9" fill="none" stroke="#1f1f1f" stroke-width="2.3"/>
<line x1="393.30" y1="659.90" x2="419.90" y2="659.90" stroke="#1f1f1f" stroke-width="2.5" />
<rect x="403.40" y="658.00" width="6.2" height="3.8" rx="1.2" fill="#fff" stroke="#1f1f1f" stroke-width="1.0"/>
<line x1="412.90" y1="653.60" x2="416.10" y2="653.91" stroke="#1f1f1f" stroke-width="1.5" />
<line x1="412.90" y1="656.80" x2="416.10" y2="656.95" stroke="#1f1f1f" stroke-width="1.5" />
<line x1="412.90" y1="663.00" x2="416.10" y2="662.85" stroke="#1f1f1f" stroke-width="1.5" />
<line x1="412.90" y1="666.20" x2="416.10" y2="665.88" stroke="#1f1f1f" stroke-width="1.5" />
<line x1="414.70" y1="652.90" x2="414.70" y2="666.90" stroke="#1f1f1f" stroke-width="1.0" />
<line x1="488.20" y1="547.50" x2="593.80" y2="547.50" stroke="#1f1f1f" stroke-width="1.5" />
<line x1="508.80" y1="574.50" x2="563.20" y2="574.50" stroke="#1f1f1f" stroke-width="1.5" />
<line x1="555.60" y1="640.20" x2="563.20" y2="640.20" stroke="#1f1f1f" stroke-width="1.5" />
<line x1="555.60" y1="695.00" x2="593.80" y2="695.00" stroke="#1f1f1f" stroke-width="1.5" />
<line x1="560.90" y1="574.50" x2="560.90" y2="695.00" stroke="#1f1f1f" stroke-width="1.5" />
<line x1="591.10" y1="547.50" x2="591.10" y2="695.00" stroke="#1f1f1f" stroke-width="1.5" />
<path d="M560.90 574.50 L563.10 585.10 L558.70 585.10 Z" fill="#1f1f1f" stroke="none"/>
<path d="M560.90 640.20 L558.70 629.60 L563.10 629.60 Z" fill="#1f1f1f" stroke="none"/>
<path d="M560.90 640.20 L563.10 650.80 L558.70 650.80 Z" fill="#1f1f1f" stroke="none"/>
<path d="M560.90 695.00 L558.70 684.40 L563.10 684.40 Z" fill="#1f1f1f" stroke="none"/>
<path d="M591.10 547.50 L593.30 558.10 L588.90 558.10 Z" fill="#1f1f1f" stroke="none"/>
<path d="M591.10 695.00 L588.90 684.40 L593.30 684.40 Z" fill="#1f1f1f" stroke="none"/>
<g transform="translate(562.40 596.00) rotate(90) scale(0.955)" fill="none" stroke="#1f1f1f" stroke-width="2.0" stroke-linecap="round" stroke-linejoin="round">
<g transform="translate(0 -17.4) ">
<path transform="translate(0.00 0) matrix(0.94 0 -0.22 1 3.828 0)" d="M.9 3.2C1.5 1.2 3 0 4.9 0 7.3 0 8.9 1.7 8.9 4.3 8.9 6.7 7.3 8.2 4.6 8.2 7.6 8.2 9.3 10 9.3 12.6 9.3 15.5 7.5 17.4 4.8 17.4 2.6 17.4.9 16 .4 13.8"/>
<path transform="translate(12.00 0) matrix(0.94 0 -0.22 1 3.828 0)" d="M.4 11.8C.4 15.2 2.2 17.4 4.8 17.4S9.2 15.2 9.2 11.8 7.4 6.2 4.8 6.2.4 8.4.4 11.8V8C.4 3 2.2 0 5.2 0 7 0 8.4 1 8.8 2.7"/>
</g></g>
<g transform="translate(562.50 657.00) rotate(90) scale(0.955)" fill="none" stroke="#1f1f1f" stroke-width="2.0" stroke-linecap="round" stroke-linejoin="round">
<g transform="translate(0 -17.4) ">
<path transform="translate(0.00 0) matrix(0.94 0 -0.22 1 3.828 0)" d="M1.2 3.7C1.6 1.4 3 0 5 0 7.4 0 9 1.6 9 4 9 6 8 7.4 6.2 9.2 3.4 12 1.2 14.2.2 16.7 1.6 15.5 3 15.6 4.6 16.6 6.2 17.6 7.8 17.7 9.4 16.4"/>
<path transform="translate(12.00 0) matrix(0.94 0 -0.22 1 3.828 0)" d="M4.8 8.2C2.5 8.2 1 6.6 1 4.2S2.5 0 4.8 0 8.6 1.8 8.6 4.2 7.1 8.2 4.8 8.2C2.2 8.2.4 10.1.4 12.8S2.2 17.4 4.8 17.4 9.2 15.5 9.2 12.8 7.4 8.2 4.8 8.2Z"/>
</g></g>
<g transform="translate(592.90 599.80) rotate(90) scale(0.955)" fill="none" stroke="#1f1f1f" stroke-width="2.0" stroke-linecap="round" stroke-linejoin="round">
<g transform="translate(0 -17.4) ">
<path transform="translate(0.00 0) matrix(0.94 0 -0.22 1 3.828 0)" d="M.5 0H9.3Q4.6 8.4 3.3 17.4"/>
<path transform="translate(12.00 0) matrix(0.94 0 -0.22 1 3.828 0)" d="M.5 0H9.3Q4.6 8.4 3.3 17.4"/>
<path transform="translate(24.00 0) matrix(0.94 0 -0.22 1 3.828 0)" d="M2.6 14.6L2.1 17.3"/>
<path transform="translate(31.00 0) matrix(0.94 0 -0.22 1 3.828 0)" d="M8.8 0H1.9L1 7.7C2.2 6.7 3.4 6.2 4.9 6.2 7.6 6.2 9.3 8.4 9.3 11.6 9.3 15 7.5 17.4 4.7 17.4 2.6 17.4 1 16.2.4 14"/>
</g></g>
</svg>
</body></html>
